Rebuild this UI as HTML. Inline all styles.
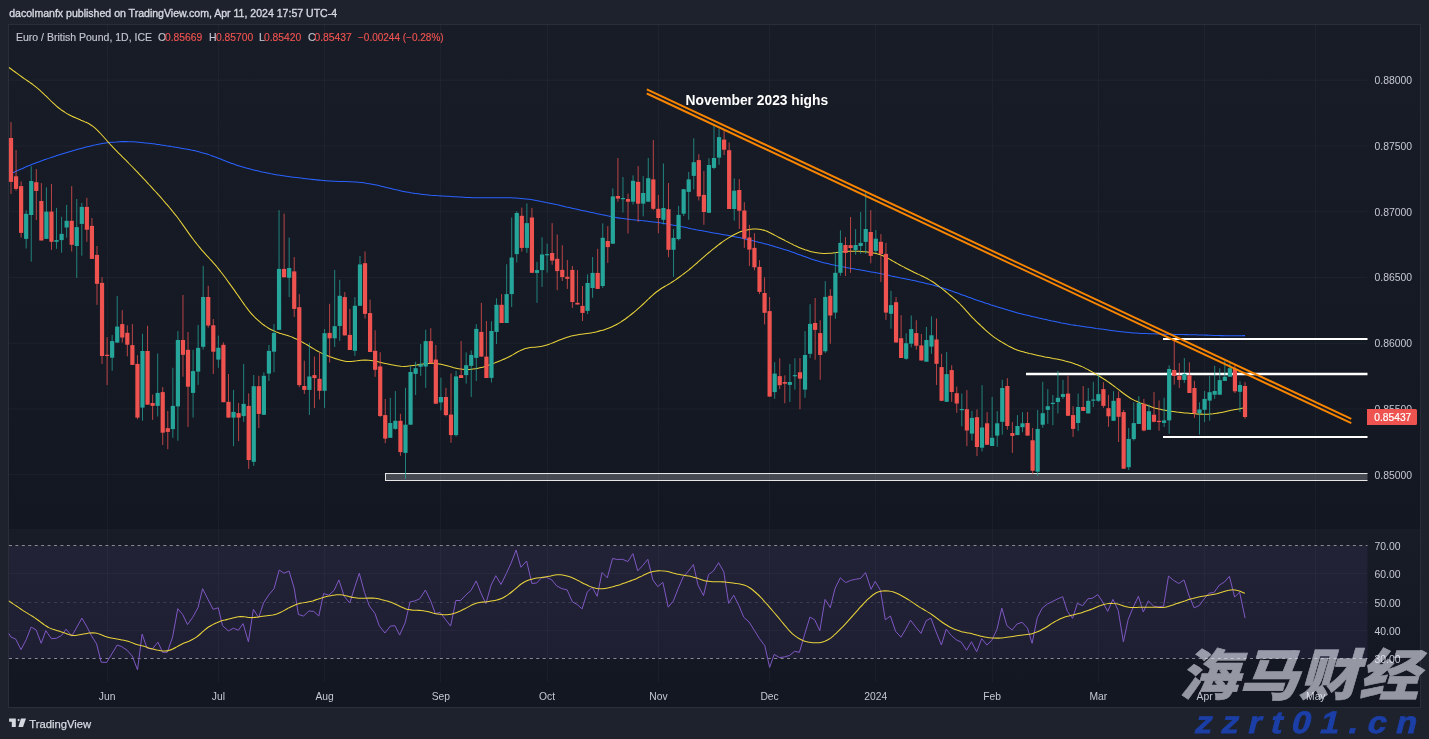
<!DOCTYPE html>
<html><head><meta charset="utf-8"><title>EURGBP chart</title>
<style>
html,body{margin:0;padding:0;background:#1e222d;}
body{width:1429px;height:739px;overflow:hidden;position:relative;font-family:"Liberation Sans","Noto Sans CJK SC",sans-serif;}
svg{position:absolute;left:0;top:0;display:block;will-change:transform;}
text{font-family:"Liberation Sans","Noto Sans CJK SC",sans-serif;}
.ax{font-size:10.4px;fill:#c5c8d0;}
.tm{font-size:10.3px;fill:#c5c8d0;text-anchor:middle}
.lg{font-size:10.5px;fill:#c3c6ce;stroke:#c3c6ce;stroke-width:0.15px}
.v{font-size:10.3px}
.rd{fill:#ef5350;stroke:#ef5350}
</style></head><body>
<svg width="1429" height="739" viewBox="0 0 1429 739">
<defs>
<linearGradient id="bg" x1="0" y1="0" x2="0" y2="1"><stop offset="0" stop-color="#181c27"/><stop offset="1" stop-color="#131722"/></linearGradient>
<clipPath id="cp"><rect x="9" y="25" width="1411" height="682"/></clipPath>
</defs>
<rect x="0" y="0" width="1429" height="739" fill="#1e222d"/>
<rect x="8.5" y="24.5" width="1412" height="683" fill="#131722" stroke="#2a2e39" stroke-width="1"/>
<rect x="9" y="25" width="1411" height="504" fill="url(#bg)"/>
<rect x="9" y="529" width="1411" height="154" fill="url(#bg)"/>

<g stroke="#f0f3fa" stroke-opacity="0.03" stroke-width="1" shape-rendering="crispEdges">
<line x1="107.5" y1="25" x2="107.5" y2="682"/>
<line x1="218.5" y1="25" x2="218.5" y2="682"/>
<line x1="324.5" y1="25" x2="324.5" y2="682"/>
<line x1="440.5" y1="25" x2="440.5" y2="682"/>
<line x1="547.5" y1="25" x2="547.5" y2="682"/>
<line x1="658.5" y1="25" x2="658.5" y2="682"/>
<line x1="769.5" y1="25" x2="769.5" y2="682"/>
<line x1="875.5" y1="25" x2="875.5" y2="682"/>
<line x1="992.5" y1="25" x2="992.5" y2="682"/>
<line x1="1098.5" y1="25" x2="1098.5" y2="682"/>
<line x1="1204.5" y1="25" x2="1204.5" y2="682"/>
<line x1="1315.5" y1="25" x2="1315.5" y2="682"/>
</g>
<g stroke="#f0f3fa" stroke-opacity="0.04" stroke-width="1">
<line x1="9" y1="80.20" x2="1367" y2="80.20"/>
<line x1="9" y1="145.95" x2="1367" y2="145.95"/>
<line x1="9" y1="211.70" x2="1367" y2="211.70"/>
<line x1="9" y1="277.45" x2="1367" y2="277.45"/>
<line x1="9" y1="343.20" x2="1367" y2="343.20"/>
<line x1="9" y1="408.95" x2="1367" y2="408.95"/>
<line x1="9" y1="474.70" x2="1367" y2="474.70"/>
<line x1="9" y1="573.7" x2="1367" y2="573.7"/>
<line x1="9" y1="630.4" x2="1367" y2="630.4"/>
</g>
<rect x="9" y="545.5" width="1358.5" height="113" fill="#7e57c2" fill-opacity="0.11"/>
<g stroke="#868994" stroke-width="1" stroke-dasharray="3,3.43">
<line x1="9" y1="545.5" x2="1367.5" y2="545.5"/><line x1="9" y1="658.5" x2="1367.5" y2="658.5"/>
</g>
<line x1="9" y1="602.5" x2="1367.5" y2="602.5" stroke="#b8bac2" stroke-opacity="0.18" stroke-width="1" stroke-dasharray="3,3.43"/>
<clipPath id="cz"><rect x="380" y="470" width="987.5" height="14"/></clipPath>
<rect x="385.5" y="473.5" width="990" height="7" fill="#ffffff" fill-opacity="0.22" stroke="#e6e6e6" stroke-width="1" clip-path="url(#cz)"/>
<g stroke="#ffffff" stroke-width="2">
<line x1="1163" y1="339" x2="1367.5" y2="339"/>
<line x1="1026" y1="374" x2="1367.5" y2="374" stroke-width="2.4"/>
<line x1="1163" y1="437" x2="1367.5" y2="437"/>
</g>
<path d="M11.1,173.5 C11.9,173.1 14.4,172.0 16.1,171.2 C17.8,170.5 19.4,169.7 21.1,169.0 C22.8,168.3 24.4,167.5 26.1,166.8 C27.8,166.1 29.4,165.5 31.1,164.8 C32.8,164.1 34.4,163.5 36.1,162.8 C37.8,162.2 39.4,161.6 41.1,161.0 C42.8,160.4 44.4,159.8 46.1,159.2 C47.8,158.7 49.4,158.1 51.1,157.5 C52.8,157.0 54.4,156.4 56.1,155.8 C57.8,155.3 59.4,154.8 61.1,154.2 C62.8,153.7 64.4,153.2 66.1,152.7 C67.8,152.2 69.4,151.7 71.1,151.2 C72.8,150.7 74.4,150.2 76.1,149.8 C77.8,149.3 79.4,148.9 81.1,148.4 C82.8,148.0 84.4,147.6 86.1,147.1 C87.8,146.7 89.4,146.3 91.1,145.9 C92.8,145.5 94.4,145.1 96.1,144.8 C97.8,144.4 99.4,144.1 101.1,143.8 C102.8,143.5 104.4,143.2 106.1,142.9 C107.8,142.7 109.4,142.5 111.1,142.3 C112.8,142.1 114.4,142.0 116.1,141.9 C117.8,141.7 119.4,141.7 121.1,141.6 C122.8,141.6 124.4,141.6 126.1,141.6 C127.8,141.6 129.4,141.7 131.1,141.7 C132.8,141.8 134.4,141.9 136.1,142.0 C137.8,142.1 139.4,142.3 141.1,142.4 C142.8,142.6 144.4,142.7 146.1,142.9 C147.8,143.1 149.4,143.3 151.1,143.5 C152.8,143.7 154.4,144.0 156.1,144.2 C157.8,144.4 159.4,144.7 161.1,144.9 C162.8,145.2 164.4,145.4 166.1,145.7 C167.8,145.9 169.4,146.2 171.1,146.5 C172.8,146.7 174.4,147.0 176.1,147.3 C177.8,147.6 179.4,147.9 181.1,148.2 C182.8,148.5 184.4,148.8 186.1,149.1 C187.8,149.4 189.4,149.7 191.1,150.1 C192.8,150.4 194.4,150.8 196.1,151.1 C197.8,151.5 199.4,151.9 201.1,152.4 C202.8,152.8 204.4,153.3 206.1,153.8 C207.8,154.3 209.4,154.9 211.1,155.5 C212.8,156.1 214.4,156.7 216.1,157.3 C217.8,158.0 219.4,158.6 221.1,159.3 C222.8,160.0 224.4,160.6 226.1,161.3 C227.8,161.9 229.4,162.6 231.1,163.2 C232.8,163.8 234.4,164.4 236.1,164.9 C237.8,165.5 239.4,166.0 241.1,166.5 C242.8,167.0 244.4,167.5 246.1,167.9 C247.8,168.4 249.4,168.8 251.1,169.3 C252.8,169.7 254.4,170.1 256.1,170.5 C257.8,170.9 259.4,171.3 261.1,171.7 C262.8,172.0 264.4,172.4 266.1,172.7 C267.8,173.1 269.4,173.4 271.1,173.8 C272.8,174.1 274.4,174.4 276.1,174.7 C277.8,175.0 279.4,175.2 281.1,175.5 C282.8,175.8 284.4,176.0 286.1,176.2 C287.8,176.5 289.4,176.7 291.1,176.9 C292.8,177.1 294.4,177.3 296.1,177.5 C297.8,177.7 299.4,177.9 301.1,178.1 C302.8,178.3 304.4,178.5 306.1,178.7 C307.8,178.9 309.4,179.1 311.1,179.3 C312.8,179.5 314.4,179.7 316.1,179.8 C317.8,180.0 319.4,180.2 321.1,180.3 C322.8,180.5 324.4,180.6 326.1,180.7 C327.8,180.9 329.4,181.0 331.1,181.1 C332.8,181.2 334.4,181.2 336.1,181.3 C337.8,181.4 339.4,181.4 341.1,181.5 C342.8,181.5 344.4,181.5 346.1,181.6 C347.8,181.7 349.4,181.7 351.1,181.8 C352.8,181.9 354.4,182.0 356.1,182.1 C357.8,182.3 359.4,182.4 361.1,182.6 C362.8,182.8 364.4,183.0 366.1,183.3 C367.8,183.5 369.4,183.8 371.1,184.1 C372.8,184.4 374.4,184.8 376.1,185.1 C377.8,185.4 379.4,185.8 381.1,186.2 C382.8,186.6 384.4,187.0 386.1,187.4 C387.8,187.8 389.4,188.2 391.1,188.6 C392.8,189.0 394.4,189.4 396.1,189.8 C397.8,190.1 399.4,190.5 401.1,190.9 C402.8,191.2 404.4,191.6 406.1,191.9 C407.8,192.2 409.4,192.5 411.1,192.8 C412.8,193.0 414.4,193.3 416.1,193.5 C417.8,193.8 419.4,194.0 421.1,194.2 C422.8,194.4 424.4,194.5 426.1,194.7 C427.8,194.9 429.4,195.0 431.1,195.2 C432.8,195.3 434.4,195.4 436.1,195.6 C437.8,195.7 439.4,195.8 441.1,195.9 C442.8,196.0 444.4,196.1 446.1,196.2 C447.8,196.3 449.4,196.4 451.1,196.5 C452.8,196.6 454.4,196.7 456.1,196.8 C457.8,196.9 459.4,197.0 461.1,197.1 C462.8,197.2 464.4,197.3 466.1,197.4 C467.8,197.4 469.4,197.5 471.1,197.6 C472.8,197.6 474.4,197.7 476.1,197.7 C477.8,197.8 479.4,197.8 481.1,197.8 C482.8,197.8 484.4,197.8 486.1,197.8 C487.8,197.8 489.4,197.8 491.1,197.8 C492.8,197.8 494.4,197.7 496.1,197.7 C497.8,197.7 499.4,197.7 501.1,197.7 C502.8,197.7 504.4,197.7 506.1,197.7 C507.8,197.7 509.4,197.8 511.1,197.8 C512.8,197.9 514.4,198.0 516.1,198.1 C517.8,198.2 519.4,198.3 521.1,198.4 C522.8,198.6 524.4,198.8 526.1,199.0 C527.8,199.2 529.4,199.4 531.1,199.6 C532.8,199.9 534.4,200.1 536.1,200.4 C537.8,200.7 539.4,201.0 541.1,201.4 C542.8,201.7 544.4,202.0 546.1,202.4 C547.8,202.7 549.4,203.1 551.1,203.4 C552.8,203.8 554.4,204.2 556.1,204.6 C557.8,204.9 559.4,205.3 561.1,205.7 C562.8,206.1 564.4,206.5 566.1,206.9 C567.8,207.2 569.4,207.6 571.1,208.0 C572.8,208.4 574.4,208.8 576.1,209.1 C577.8,209.5 579.4,209.9 581.1,210.3 C582.8,210.6 584.4,211.0 586.1,211.3 C587.8,211.7 589.4,212.1 591.1,212.4 C592.8,212.8 594.4,213.2 596.1,213.5 C597.8,213.9 599.4,214.2 601.1,214.6 C602.8,214.9 604.4,215.3 606.1,215.6 C607.8,216.0 609.4,216.3 611.1,216.6 C612.8,216.9 614.4,217.3 616.1,217.5 C617.8,217.8 619.4,218.1 621.1,218.3 C622.8,218.6 624.4,218.8 626.1,219.0 C627.8,219.2 629.4,219.4 631.1,219.6 C632.8,219.7 634.4,219.9 636.1,220.1 C637.8,220.2 639.4,220.4 641.1,220.6 C642.8,220.7 644.4,220.9 646.1,221.1 C647.8,221.3 649.4,221.5 651.1,221.7 C652.8,221.9 654.4,222.1 656.1,222.3 C657.8,222.6 659.4,222.8 661.1,223.0 C662.8,223.3 664.4,223.5 666.1,223.8 C667.8,224.1 669.4,224.4 671.1,224.7 C672.8,225.0 674.4,225.3 676.1,225.6 C677.8,225.9 679.4,226.2 681.1,226.6 C682.8,226.9 684.4,227.3 686.1,227.6 C687.8,228.0 689.4,228.3 691.1,228.7 C692.8,229.0 694.4,229.3 696.1,229.7 C697.8,230.0 699.4,230.3 701.1,230.6 C702.8,231.0 704.4,231.3 706.1,231.6 C707.8,231.9 709.4,232.2 711.1,232.5 C712.8,232.8 714.4,233.0 716.1,233.3 C717.8,233.6 719.4,233.9 721.1,234.2 C722.8,234.5 724.4,234.8 726.1,235.1 C727.8,235.4 729.4,235.7 731.1,236.0 C732.8,236.4 734.4,236.7 736.1,237.0 C737.8,237.4 739.4,237.7 741.1,238.1 C742.8,238.5 744.4,238.8 746.1,239.2 C747.8,239.6 749.4,240.0 751.1,240.3 C752.8,240.7 754.4,241.1 756.1,241.6 C757.8,242.0 759.4,242.4 761.1,242.8 C762.8,243.2 764.4,243.7 766.1,244.1 C767.8,244.6 769.4,245.0 771.1,245.5 C772.8,246.0 774.4,246.4 776.1,246.9 C777.8,247.4 779.4,247.9 781.1,248.4 C782.8,249.0 784.4,249.5 786.1,250.0 C787.8,250.6 789.4,251.1 791.1,251.7 C792.8,252.3 794.4,252.9 796.1,253.5 C797.8,254.1 799.4,254.7 801.1,255.3 C802.8,255.9 804.4,256.5 806.1,257.1 C807.8,257.7 809.4,258.3 811.1,258.9 C812.8,259.4 814.4,260.0 816.1,260.5 C817.8,261.0 819.4,261.5 821.1,261.9 C822.8,262.4 824.4,262.8 826.1,263.2 C827.8,263.6 829.4,264.0 831.1,264.4 C832.8,264.8 834.4,265.1 836.1,265.5 C837.8,265.8 839.4,266.1 841.1,266.5 C842.8,266.8 844.4,267.1 846.1,267.4 C847.8,267.7 849.4,268.1 851.1,268.4 C852.8,268.7 854.4,269.0 856.1,269.3 C857.8,269.5 859.4,269.8 861.1,270.1 C862.8,270.4 864.4,270.7 866.1,271.0 C867.8,271.3 869.4,271.6 871.1,271.9 C872.8,272.2 874.4,272.5 876.1,272.8 C877.8,273.1 879.4,273.4 881.1,273.8 C882.8,274.1 884.4,274.5 886.1,274.8 C887.8,275.1 889.4,275.5 891.1,275.9 C892.8,276.2 894.4,276.6 896.1,276.9 C897.8,277.3 899.4,277.6 901.1,278.0 C902.8,278.3 904.4,278.7 906.1,279.0 C907.8,279.4 909.4,279.7 911.1,280.1 C912.8,280.4 914.4,280.8 916.1,281.1 C917.8,281.5 919.4,281.8 921.1,282.2 C922.8,282.6 924.4,283.0 926.1,283.4 C927.8,283.8 929.4,284.2 931.1,284.6 C932.8,285.0 934.4,285.5 936.1,285.9 C937.8,286.4 939.4,286.9 941.1,287.4 C942.8,287.9 944.4,288.5 946.1,289.0 C947.8,289.6 949.4,290.2 951.1,290.8 C952.8,291.3 954.4,292.0 956.1,292.6 C957.8,293.2 959.4,293.8 961.1,294.4 C962.8,295.0 964.4,295.7 966.1,296.3 C967.8,296.9 969.4,297.5 971.1,298.1 C972.8,298.7 974.4,299.3 976.1,299.9 C977.8,300.5 979.4,301.0 981.1,301.6 C982.8,302.2 984.4,302.7 986.1,303.3 C987.8,303.8 989.4,304.3 991.1,304.9 C992.8,305.4 994.4,305.9 996.1,306.5 C997.8,307.0 999.4,307.5 1001.1,308.0 C1002.8,308.5 1004.4,309.1 1006.1,309.6 C1007.8,310.1 1009.4,310.5 1011.1,311.0 C1012.8,311.5 1014.4,312.0 1016.1,312.4 C1017.8,312.9 1019.4,313.3 1021.1,313.7 C1022.8,314.2 1024.4,314.6 1026.1,315.0 C1027.8,315.4 1029.4,315.8 1031.1,316.2 C1032.8,316.6 1034.4,317.0 1036.1,317.3 C1037.8,317.7 1039.4,318.1 1041.1,318.5 C1042.8,318.9 1044.4,319.3 1046.1,319.6 C1047.8,320.0 1049.4,320.4 1051.1,320.8 C1052.8,321.1 1054.4,321.5 1056.1,321.8 C1057.8,322.2 1059.4,322.5 1061.1,322.9 C1062.8,323.2 1064.4,323.5 1066.1,323.8 C1067.8,324.1 1069.4,324.4 1071.1,324.7 C1072.8,324.9 1074.4,325.2 1076.1,325.5 C1077.8,325.7 1079.4,326.0 1081.1,326.2 C1082.8,326.5 1084.4,326.7 1086.1,326.9 C1087.8,327.2 1089.4,327.4 1091.1,327.6 C1092.8,327.9 1094.4,328.1 1096.1,328.4 C1097.8,328.6 1099.4,328.8 1101.1,329.0 C1102.8,329.3 1104.4,329.5 1106.1,329.7 C1107.8,330.0 1109.4,330.2 1111.1,330.4 C1112.8,330.6 1114.4,330.9 1116.1,331.1 C1117.8,331.3 1119.4,331.5 1121.1,331.7 C1122.8,331.9 1124.4,332.1 1126.1,332.2 C1127.8,332.4 1129.4,332.6 1131.1,332.7 C1132.8,332.8 1134.4,333.0 1136.1,333.1 C1137.8,333.2 1139.4,333.3 1141.1,333.4 C1142.8,333.4 1144.4,333.5 1146.1,333.6 C1147.8,333.7 1149.4,333.7 1151.1,333.8 C1152.8,333.8 1154.4,333.9 1156.1,333.9 C1157.8,334.0 1159.4,334.0 1161.1,334.1 C1162.8,334.1 1164.4,334.2 1166.1,334.2 C1167.8,334.2 1169.4,334.3 1171.1,334.3 C1172.8,334.4 1174.4,334.4 1176.1,334.4 C1177.8,334.4 1179.4,334.5 1181.1,334.5 C1182.8,334.5 1184.4,334.6 1186.1,334.6 C1187.8,334.6 1189.4,334.7 1191.1,334.7 C1192.8,334.7 1194.4,334.8 1196.1,334.8 C1197.8,334.9 1199.4,334.9 1201.1,335.0 C1202.8,335.0 1204.4,335.1 1206.1,335.1 C1207.8,335.2 1209.4,335.2 1211.1,335.3 C1212.8,335.4 1214.4,335.4 1216.1,335.5 C1217.8,335.5 1219.4,335.6 1221.1,335.6 C1222.8,335.7 1224.4,335.7 1226.1,335.7 C1227.8,335.7 1229.4,335.8 1231.1,335.8 C1232.8,335.8 1234.4,335.8 1236.1,335.7 C1237.8,335.7 1239.6,335.7 1241.1,335.7 C1242.6,335.7 1244.4,335.6 1245.0,335.6" fill="none" stroke="#2962ff" stroke-width="1.05" stroke-linejoin="round"/>
<path d="M9.0,67.5 C9.7,68.0 11.7,69.5 13.0,70.5 C14.3,71.4 15.7,72.4 17.0,73.4 C18.3,74.4 19.7,75.3 21.0,76.3 C22.3,77.2 23.7,78.2 25.0,79.1 C26.3,80.0 27.7,80.9 29.0,81.8 C30.3,82.8 31.7,83.7 33.0,84.7 C34.3,85.7 35.7,86.7 37.0,87.8 C38.3,88.9 39.7,90.0 41.0,91.3 C42.3,92.5 43.7,93.8 45.0,95.1 C46.3,96.3 47.7,97.7 49.0,99.0 C50.3,100.3 51.7,101.6 53.0,102.8 C54.3,104.1 55.7,105.3 57.0,106.5 C58.3,107.6 59.7,108.7 61.0,109.7 C62.3,110.6 63.7,111.5 65.0,112.4 C66.3,113.2 67.7,114.0 69.0,114.7 C70.3,115.4 71.7,116.1 73.0,116.7 C74.3,117.3 75.7,117.9 77.0,118.5 C78.3,119.1 79.7,119.6 81.0,120.2 C82.3,120.7 83.7,121.2 85.0,121.9 C86.3,122.5 87.7,123.1 89.0,123.8 C90.3,124.6 91.7,125.4 93.0,126.4 C94.3,127.4 95.7,128.6 97.0,129.9 C98.3,131.1 99.7,132.6 101.0,134.0 C102.3,135.5 103.7,137.0 105.0,138.5 C106.3,140.1 107.7,141.6 109.0,143.0 C110.3,144.5 111.7,145.9 113.0,147.3 C114.3,148.7 115.7,150.0 117.0,151.4 C118.3,152.8 119.7,154.1 121.0,155.4 C122.3,156.8 123.7,158.1 125.0,159.4 C126.3,160.8 127.7,162.1 129.0,163.5 C130.3,164.8 131.7,166.2 133.0,167.5 C134.3,168.9 135.7,170.3 137.0,171.7 C138.3,173.1 139.7,174.5 141.0,175.9 C142.3,177.3 143.7,178.8 145.0,180.2 C146.3,181.6 147.7,183.0 149.0,184.5 C150.3,185.9 151.7,187.3 153.0,188.8 C154.3,190.3 155.7,191.7 157.0,193.2 C158.3,194.7 159.7,196.2 161.0,197.7 C162.3,199.2 163.7,200.8 165.0,202.3 C166.3,203.9 167.7,205.4 169.0,207.0 C170.3,208.6 171.7,210.1 173.0,211.8 C174.3,213.4 175.7,215.1 177.0,216.8 C178.3,218.6 179.7,220.4 181.0,222.3 C182.3,224.1 183.7,226.1 185.0,227.9 C186.3,229.8 187.7,231.8 189.0,233.6 C190.3,235.4 191.7,237.3 193.0,239.0 C194.3,240.8 195.7,242.5 197.0,244.2 C198.3,245.9 199.7,247.5 201.0,249.1 C202.3,250.6 203.7,252.1 205.0,253.6 C206.3,255.1 207.7,256.6 209.0,258.0 C210.3,259.5 211.7,260.9 213.0,262.4 C214.3,263.9 215.7,265.4 217.0,267.0 C218.3,268.6 219.7,270.2 221.0,272.0 C222.3,273.7 223.7,275.5 225.0,277.3 C226.3,279.1 227.7,281.0 229.0,282.9 C230.3,284.7 231.7,286.6 233.0,288.4 C234.3,290.3 235.7,292.2 237.0,294.0 C238.3,295.9 239.7,297.9 241.0,299.8 C242.3,301.7 243.7,303.6 245.0,305.5 C246.3,307.3 247.7,309.1 249.0,310.8 C250.3,312.4 251.7,314.0 253.0,315.4 C254.3,316.8 255.7,318.1 257.0,319.3 C258.3,320.5 259.7,321.7 261.0,322.8 C262.3,323.9 263.7,324.9 265.0,325.9 C266.3,326.8 267.7,327.7 269.0,328.5 C270.3,329.3 271.7,330.0 273.0,330.6 C274.3,331.2 275.7,331.7 277.0,332.2 C278.3,332.7 279.7,333.1 281.0,333.6 C282.3,334.0 283.7,334.4 285.0,334.8 C286.3,335.2 287.7,335.6 289.0,336.1 C290.3,336.5 291.7,337.0 293.0,337.5 C294.3,338.1 295.7,338.7 297.0,339.3 C298.3,340.0 299.7,340.7 301.0,341.4 C302.3,342.1 303.7,342.9 305.0,343.6 C306.3,344.4 307.7,345.2 309.0,346.0 C310.3,346.8 311.7,347.6 313.0,348.4 C314.3,349.2 315.7,350.0 317.0,350.8 C318.3,351.5 319.7,352.2 321.0,352.9 C322.3,353.6 323.7,354.2 325.0,354.7 C326.3,355.3 327.7,355.8 329.0,356.3 C330.3,356.9 331.7,357.3 333.0,357.8 C334.3,358.3 335.7,358.7 337.0,359.1 C338.3,359.6 339.7,360.0 341.0,360.3 C342.3,360.7 343.7,361.0 345.0,361.2 C346.3,361.4 347.7,361.5 349.0,361.5 C350.3,361.5 351.7,361.4 353.0,361.2 C354.3,361.1 355.7,360.8 357.0,360.7 C358.3,360.5 359.7,360.3 361.0,360.2 C362.3,360.1 363.7,360.1 365.0,360.1 C366.3,360.1 367.7,360.2 369.0,360.3 C370.3,360.4 371.7,360.6 373.0,360.8 C374.3,361.0 375.7,361.2 377.0,361.5 C378.3,361.8 379.7,362.1 381.0,362.4 C382.3,362.7 383.7,363.1 385.0,363.4 C386.3,363.7 387.7,364.0 389.0,364.3 C390.3,364.6 391.7,364.9 393.0,365.1 C394.3,365.4 395.7,365.6 397.0,365.8 C398.3,366.0 399.7,366.1 401.0,366.3 C402.3,366.4 403.7,366.4 405.0,366.4 C406.3,366.4 407.7,366.3 409.0,366.1 C410.3,366.0 411.7,365.8 413.0,365.6 C414.3,365.4 415.7,365.2 417.0,365.0 C418.3,364.7 419.7,364.5 421.0,364.3 C422.3,364.1 423.7,364.0 425.0,363.8 C426.3,363.6 427.7,363.5 429.0,363.4 C430.3,363.3 431.7,363.3 433.0,363.3 C434.3,363.3 435.7,363.4 437.0,363.6 C438.3,363.8 439.7,364.0 441.0,364.3 C442.3,364.6 443.7,364.9 445.0,365.2 C446.3,365.6 447.7,365.9 449.0,366.3 C450.3,366.6 451.7,367.0 453.0,367.4 C454.3,367.7 455.7,368.1 457.0,368.4 C458.3,368.7 459.7,368.9 461.0,369.1 C462.3,369.3 463.7,369.4 465.0,369.5 C466.3,369.6 467.7,369.6 469.0,369.5 C470.3,369.4 471.7,369.3 473.0,369.1 C474.3,368.9 475.7,368.7 477.0,368.4 C478.3,368.2 479.7,367.9 481.0,367.5 C482.3,367.2 483.7,366.8 485.0,366.4 C486.3,366.0 487.7,365.6 489.0,365.1 C490.3,364.7 491.7,364.2 493.0,363.7 C494.3,363.2 495.7,362.7 497.0,362.1 C498.3,361.6 499.7,361.0 501.0,360.5 C502.3,359.9 503.7,359.3 505.0,358.7 C506.3,358.1 507.7,357.5 509.0,356.8 C510.3,356.1 511.7,355.3 513.0,354.6 C514.3,353.8 515.7,353.0 517.0,352.3 C518.3,351.6 519.7,350.8 521.0,350.2 C522.3,349.6 523.7,349.1 525.0,348.6 C526.3,348.2 527.7,347.9 529.0,347.7 C530.3,347.5 531.7,347.4 533.0,347.3 C534.3,347.2 535.7,347.1 537.0,347.0 C538.3,346.9 539.7,346.7 541.0,346.5 C542.3,346.3 543.7,346.0 545.0,345.6 C546.3,345.2 547.7,344.7 549.0,344.2 C550.3,343.8 551.7,343.2 553.0,342.7 C554.3,342.1 555.7,341.6 557.0,341.1 C558.3,340.5 559.7,340.0 561.0,339.5 C562.3,339.0 563.7,338.5 565.0,338.0 C566.3,337.6 567.7,337.1 569.0,336.7 C570.3,336.3 571.7,336.0 573.0,335.7 C574.3,335.4 575.7,335.1 577.0,334.9 C578.3,334.7 579.7,334.5 581.0,334.3 C582.3,334.1 583.7,334.0 585.0,333.8 C586.3,333.6 587.7,333.4 589.0,333.2 C590.3,333.0 591.7,332.8 593.0,332.6 C594.3,332.3 595.7,332.0 597.0,331.7 C598.3,331.4 599.7,331.0 601.0,330.6 C602.3,330.3 603.7,329.9 605.0,329.4 C606.3,329.0 607.7,328.5 609.0,328.0 C610.3,327.5 611.7,326.9 613.0,326.3 C614.3,325.6 615.7,324.9 617.0,324.2 C618.3,323.5 619.7,322.7 621.0,321.9 C622.3,321.0 623.7,320.1 625.0,319.2 C626.3,318.3 627.7,317.3 629.0,316.2 C630.3,315.2 631.7,314.1 633.0,313.0 C634.3,311.9 635.7,310.8 637.0,309.7 C638.3,308.5 639.7,307.3 641.0,306.1 C642.3,304.9 643.7,303.6 645.0,302.4 C646.3,301.1 647.7,299.8 649.0,298.5 C650.3,297.3 651.7,296.0 653.0,294.8 C654.3,293.6 655.7,292.5 657.0,291.5 C658.3,290.5 659.7,289.6 661.0,288.7 C662.3,287.8 663.7,287.1 665.0,286.3 C666.3,285.5 667.7,284.8 669.0,284.0 C670.3,283.2 671.7,282.4 673.0,281.5 C674.3,280.7 675.7,279.7 677.0,278.8 C678.3,277.9 679.7,276.9 681.0,275.9 C682.3,274.9 683.7,273.9 685.0,272.9 C686.3,271.9 687.7,270.8 689.0,269.8 C690.3,268.7 691.7,267.6 693.0,266.4 C694.3,265.3 695.7,264.1 697.0,263.0 C698.3,261.8 699.7,260.6 701.0,259.4 C702.3,258.2 703.7,257.1 705.0,255.9 C706.3,254.8 707.7,253.6 709.0,252.5 C710.3,251.4 711.7,250.3 713.0,249.2 C714.3,248.1 715.7,247.1 717.0,246.0 C718.3,245.0 719.7,244.0 721.0,243.0 C722.3,242.0 723.7,241.0 725.0,240.1 C726.3,239.3 727.7,238.4 729.0,237.6 C730.3,236.8 731.7,236.0 733.0,235.3 C734.3,234.6 735.7,233.9 737.0,233.3 C738.3,232.7 739.7,232.1 741.0,231.6 C742.3,231.1 743.7,230.7 745.0,230.4 C746.3,230.0 747.7,229.7 749.0,229.5 C750.3,229.3 751.7,229.1 753.0,229.0 C754.3,228.9 755.7,228.9 757.0,228.9 C758.3,229.0 759.7,229.2 761.0,229.4 C762.3,229.7 763.7,230.1 765.0,230.6 C766.3,231.0 767.7,231.6 769.0,232.3 C770.3,232.9 771.7,233.6 773.0,234.3 C774.3,235.0 775.7,235.7 777.0,236.4 C778.3,237.1 779.7,237.8 781.0,238.5 C782.3,239.2 783.7,239.9 785.0,240.6 C786.3,241.3 787.7,242.0 789.0,242.6 C790.3,243.3 791.7,244.0 793.0,244.6 C794.3,245.3 795.7,245.9 797.0,246.5 C798.3,247.1 799.7,247.7 801.0,248.2 C802.3,248.7 803.7,249.2 805.0,249.7 C806.3,250.1 807.7,250.5 809.0,250.9 C810.3,251.3 811.7,251.7 813.0,252.0 C814.3,252.3 815.7,252.6 817.0,252.8 C818.3,253.0 819.7,253.1 821.0,253.2 C822.3,253.3 823.7,253.4 825.0,253.4 C826.3,253.4 827.7,253.4 829.0,253.3 C830.3,253.2 831.7,253.1 833.0,252.9 C834.3,252.8 835.7,252.6 837.0,252.4 C838.3,252.3 839.7,252.1 841.0,251.9 C842.3,251.8 843.7,251.7 845.0,251.6 C846.3,251.5 847.7,251.4 849.0,251.3 C850.3,251.3 851.7,251.2 853.0,251.2 C854.3,251.2 855.7,251.2 857.0,251.3 C858.3,251.3 859.7,251.4 861.0,251.4 C862.3,251.5 863.7,251.6 865.0,251.8 C866.3,251.9 867.7,252.0 869.0,252.2 C870.3,252.4 871.7,252.6 873.0,252.9 C874.3,253.2 875.7,253.5 877.0,253.8 C878.3,254.2 879.7,254.6 881.0,255.1 C882.3,255.6 883.7,256.2 885.0,256.8 C886.3,257.4 887.7,258.2 889.0,258.9 C890.3,259.6 891.7,260.4 893.0,261.1 C894.3,261.9 895.7,262.6 897.0,263.4 C898.3,264.1 899.7,264.9 901.0,265.6 C902.3,266.3 903.7,267.0 905.0,267.7 C906.3,268.4 907.7,269.1 909.0,269.8 C910.3,270.5 911.7,271.2 913.0,271.8 C914.3,272.5 915.7,273.1 917.0,273.7 C918.3,274.3 919.7,274.9 921.0,275.6 C922.3,276.2 923.7,276.8 925.0,277.5 C926.3,278.1 927.7,278.8 929.0,279.6 C930.3,280.3 931.7,281.2 933.0,282.0 C934.3,282.9 935.7,283.8 937.0,284.8 C938.3,285.8 939.7,286.8 941.0,287.8 C942.3,288.8 943.7,289.9 945.0,291.0 C946.3,292.1 947.7,293.2 949.0,294.3 C950.3,295.4 951.7,296.6 953.0,297.7 C954.3,298.9 955.7,300.0 957.0,301.2 C958.3,302.5 959.7,303.7 961.0,305.1 C962.3,306.4 963.7,307.9 965.0,309.4 C966.3,310.9 967.7,312.4 969.0,313.9 C970.3,315.4 971.7,316.8 973.0,318.2 C974.3,319.5 975.7,320.8 977.0,322.1 C978.3,323.4 979.7,324.6 981.0,325.9 C982.3,327.1 983.7,328.4 985.0,329.6 C986.3,330.9 987.7,332.1 989.0,333.2 C990.3,334.3 991.7,335.4 993.0,336.4 C994.3,337.4 995.7,338.2 997.0,339.1 C998.3,340.0 999.7,340.8 1001.0,341.6 C1002.3,342.4 1003.7,343.2 1005.0,344.0 C1006.3,344.8 1007.7,345.5 1009.0,346.3 C1010.3,347.0 1011.7,347.7 1013.0,348.3 C1014.3,349.0 1015.7,349.5 1017.0,350.0 C1018.3,350.5 1019.7,350.9 1021.0,351.3 C1022.3,351.7 1023.7,352.0 1025.0,352.4 C1026.3,352.7 1027.7,353.0 1029.0,353.4 C1030.3,353.7 1031.7,354.0 1033.0,354.3 C1034.3,354.6 1035.7,354.9 1037.0,355.2 C1038.3,355.5 1039.7,355.8 1041.0,356.1 C1042.3,356.4 1043.7,356.6 1045.0,356.9 C1046.3,357.1 1047.7,357.4 1049.0,357.6 C1050.3,357.9 1051.7,358.1 1053.0,358.4 C1054.3,358.6 1055.7,358.9 1057.0,359.1 C1058.3,359.4 1059.7,359.6 1061.0,359.9 C1062.3,360.2 1063.7,360.5 1065.0,360.9 C1066.3,361.2 1067.7,361.6 1069.0,362.0 C1070.3,362.4 1071.7,362.8 1073.0,363.2 C1074.3,363.7 1075.7,364.1 1077.0,364.6 C1078.3,365.1 1079.7,365.6 1081.0,366.2 C1082.3,366.8 1083.7,367.4 1085.0,368.1 C1086.3,368.8 1087.7,369.5 1089.0,370.2 C1090.3,370.9 1091.7,371.6 1093.0,372.4 C1094.3,373.2 1095.7,373.9 1097.0,374.7 C1098.3,375.5 1099.7,376.4 1101.0,377.2 C1102.3,378.1 1103.7,378.9 1105.0,379.8 C1106.3,380.7 1107.7,381.6 1109.0,382.5 C1110.3,383.4 1111.7,384.4 1113.0,385.4 C1114.3,386.4 1115.7,387.4 1117.0,388.4 C1118.3,389.4 1119.7,390.5 1121.0,391.5 C1122.3,392.5 1123.7,393.6 1125.0,394.5 C1126.3,395.5 1127.7,396.4 1129.0,397.2 C1130.3,398.1 1131.7,398.9 1133.0,399.6 C1134.3,400.3 1135.7,401.0 1137.0,401.6 C1138.3,402.2 1139.7,402.7 1141.0,403.2 C1142.3,403.7 1143.7,404.2 1145.0,404.6 C1146.3,405.1 1147.7,405.6 1149.0,406.0 C1150.3,406.5 1151.7,407.0 1153.0,407.4 C1154.3,407.8 1155.7,408.2 1157.0,408.5 C1158.3,408.9 1159.7,409.2 1161.0,409.5 C1162.3,409.8 1163.7,410.1 1165.0,410.3 C1166.3,410.5 1167.7,410.7 1169.0,410.9 C1170.3,411.1 1171.7,411.3 1173.0,411.5 C1174.3,411.7 1175.7,411.8 1177.0,412.0 C1178.3,412.1 1179.7,412.3 1181.0,412.4 C1182.3,412.6 1183.7,412.7 1185.0,412.9 C1186.3,413.0 1187.7,413.2 1189.0,413.3 C1190.3,413.4 1191.7,413.5 1193.0,413.6 C1194.3,413.7 1195.7,413.8 1197.0,413.9 C1198.3,414.0 1199.7,414.1 1201.0,414.1 C1202.3,414.1 1203.7,414.2 1205.0,414.2 C1206.3,414.1 1207.7,414.1 1209.0,414.1 C1210.3,414.0 1211.7,413.9 1213.0,413.8 C1214.3,413.6 1215.7,413.4 1217.0,413.2 C1218.3,413.0 1219.7,412.8 1221.0,412.5 C1222.3,412.3 1223.7,412.0 1225.0,411.7 C1226.3,411.4 1227.7,411.1 1229.0,410.8 C1230.3,410.5 1231.7,410.2 1233.0,409.9 C1234.3,409.7 1235.7,409.4 1237.0,409.2 C1238.3,409.0 1240.0,408.8 1241.0,408.6 C1242.0,408.4 1242.6,408.2 1242.9,408.1" fill="none" stroke="#e8d23a" stroke-width="1.05" stroke-linejoin="round"/>
<g>
<rect x="10.50" y="122.1" width="1" height="71.9" fill="#ef5350" fill-opacity="0.75"/>
<rect x="8.90" y="138.0" width="4.2" height="43.9" fill="#ef5350"/>
<rect x="15.56" y="150.0" width="1" height="40.6" fill="#ef5350" fill-opacity="0.75"/>
<rect x="13.96" y="176.3" width="4.2" height="12.6" fill="#ef5350"/>
<rect x="20.62" y="181.4" width="1" height="56.2" fill="#ef5350" fill-opacity="0.75"/>
<rect x="19.02" y="186.1" width="4.2" height="46.8" fill="#ef5350"/>
<rect x="25.67" y="210.3" width="1" height="38.2" fill="#26a69a" fill-opacity="0.75"/>
<rect x="24.07" y="213.8" width="4.2" height="25.1" fill="#26a69a"/>
<rect x="30.73" y="166.3" width="1" height="95.3" fill="#26a69a" fill-opacity="0.75"/>
<rect x="29.13" y="181.0" width="4.2" height="34.0" fill="#26a69a"/>
<rect x="35.79" y="169.1" width="1" height="50.9" fill="#ef5350" fill-opacity="0.75"/>
<rect x="34.19" y="182.2" width="4.2" height="8.8" fill="#ef5350"/>
<rect x="40.84" y="183.1" width="1" height="57.4" fill="#ef5350" fill-opacity="0.75"/>
<rect x="39.24" y="201.0" width="4.2" height="39.5" fill="#ef5350"/>
<rect x="45.90" y="187.3" width="1" height="51.6" fill="#26a69a" fill-opacity="0.75"/>
<rect x="44.30" y="211.6" width="4.2" height="27.3" fill="#26a69a"/>
<rect x="50.96" y="183.9" width="1" height="66.0" fill="#ef5350" fill-opacity="0.75"/>
<rect x="49.36" y="211.6" width="4.2" height="30.2" fill="#ef5350"/>
<rect x="56.02" y="207.9" width="1" height="40.9" fill="#26a69a" fill-opacity="0.75"/>
<rect x="54.42" y="240.1" width="4.2" height="1.7" fill="#26a69a"/>
<rect x="61.08" y="216.8" width="1" height="35.9" fill="#26a69a" fill-opacity="0.75"/>
<rect x="59.48" y="233.9" width="4.2" height="6.2" fill="#26a69a"/>
<rect x="66.13" y="204.9" width="1" height="32.7" fill="#26a69a" fill-opacity="0.75"/>
<rect x="64.53" y="220.8" width="4.2" height="6.7" fill="#26a69a"/>
<rect x="71.19" y="186.1" width="1" height="65.4" fill="#ef5350" fill-opacity="0.75"/>
<rect x="69.59" y="220.8" width="4.2" height="24.0" fill="#ef5350"/>
<rect x="76.25" y="199.0" width="1" height="78.9" fill="#26a69a" fill-opacity="0.75"/>
<rect x="74.65" y="227.1" width="4.2" height="18.9" fill="#26a69a"/>
<rect x="81.31" y="202.9" width="1" height="52.8" fill="#26a69a" fill-opacity="0.75"/>
<rect x="79.71" y="206.9" width="4.2" height="17.0" fill="#26a69a"/>
<rect x="86.36" y="197.8" width="1" height="44.0" fill="#ef5350" fill-opacity="0.75"/>
<rect x="84.76" y="206.9" width="4.2" height="22.8" fill="#ef5350"/>
<rect x="91.42" y="218.0" width="1" height="40.9" fill="#ef5350" fill-opacity="0.75"/>
<rect x="89.82" y="225.9" width="4.2" height="33.0" fill="#ef5350"/>
<rect x="96.48" y="246.0" width="1" height="58.8" fill="#ef5350" fill-opacity="0.75"/>
<rect x="94.88" y="254.9" width="4.2" height="28.9" fill="#ef5350"/>
<rect x="101.53" y="277.1" width="1" height="86.8" fill="#ef5350" fill-opacity="0.75"/>
<rect x="99.94" y="282.9" width="4.2" height="73.1" fill="#ef5350"/>
<rect x="106.59" y="337.2" width="1" height="47.9" fill="#ef5350" fill-opacity="0.75"/>
<rect x="104.99" y="354.8" width="4.2" height="1.2" fill="#ef5350"/>
<rect x="111.65" y="335.0" width="1" height="35.8" fill="#26a69a" fill-opacity="0.75"/>
<rect x="110.05" y="341.1" width="4.2" height="16.6" fill="#26a69a"/>
<rect x="116.71" y="295.9" width="1" height="46.7" fill="#26a69a" fill-opacity="0.75"/>
<rect x="115.11" y="326.6" width="4.2" height="16.0" fill="#26a69a"/>
<rect x="121.77" y="310.2" width="1" height="32.4" fill="#ef5350" fill-opacity="0.75"/>
<rect x="120.17" y="324.1" width="4.2" height="13.4" fill="#ef5350"/>
<rect x="126.82" y="325.3" width="1" height="31.0" fill="#ef5350" fill-opacity="0.75"/>
<rect x="125.22" y="332.8" width="4.2" height="11.9" fill="#ef5350"/>
<rect x="131.88" y="324.1" width="1" height="40.8" fill="#ef5350" fill-opacity="0.75"/>
<rect x="130.28" y="345.1" width="4.2" height="19.8" fill="#ef5350"/>
<rect x="136.94" y="355.2" width="1" height="64.1" fill="#ef5350" fill-opacity="0.75"/>
<rect x="135.34" y="363.9" width="4.2" height="53.7" fill="#ef5350"/>
<rect x="142.00" y="333.8" width="1" height="86.9" fill="#26a69a" fill-opacity="0.75"/>
<rect x="140.40" y="351.0" width="4.2" height="56.6" fill="#26a69a"/>
<rect x="147.05" y="325.8" width="1" height="78.9" fill="#ef5350" fill-opacity="0.75"/>
<rect x="145.45" y="351.0" width="4.2" height="53.7" fill="#ef5350"/>
<rect x="152.11" y="394.6" width="1" height="25.2" fill="#ef5350" fill-opacity="0.75"/>
<rect x="150.51" y="403.0" width="4.2" height="2.9" fill="#ef5350"/>
<rect x="157.17" y="353.5" width="1" height="63.0" fill="#26a69a" fill-opacity="0.75"/>
<rect x="155.57" y="392.9" width="4.2" height="13.0" fill="#26a69a"/>
<rect x="162.22" y="387.1" width="1" height="57.9" fill="#ef5350" fill-opacity="0.75"/>
<rect x="160.62" y="392.1" width="4.2" height="40.6" fill="#ef5350"/>
<rect x="167.28" y="410.9" width="1" height="38.3" fill="#ef5350" fill-opacity="0.75"/>
<rect x="165.68" y="428.2" width="4.2" height="3.7" fill="#ef5350"/>
<rect x="172.34" y="367.8" width="1" height="70.0" fill="#26a69a" fill-opacity="0.75"/>
<rect x="170.74" y="405.9" width="4.2" height="23.2" fill="#26a69a"/>
<rect x="177.40" y="331.1" width="1" height="109.7" fill="#26a69a" fill-opacity="0.75"/>
<rect x="175.80" y="340.0" width="4.2" height="66.4" fill="#26a69a"/>
<rect x="182.46" y="295.0" width="1" height="81.7" fill="#ef5350" fill-opacity="0.75"/>
<rect x="180.86" y="340.0" width="4.2" height="14.8" fill="#ef5350"/>
<rect x="187.51" y="332.0" width="1" height="94.9" fill="#ef5350" fill-opacity="0.75"/>
<rect x="185.91" y="349.8" width="4.2" height="36.9" fill="#ef5350"/>
<rect x="192.57" y="349.8" width="1" height="67.8" fill="#26a69a" fill-opacity="0.75"/>
<rect x="190.97" y="371.1" width="4.2" height="21.8" fill="#26a69a"/>
<rect x="197.63" y="324.9" width="1" height="60.0" fill="#26a69a" fill-opacity="0.75"/>
<rect x="196.03" y="347.9" width="4.2" height="23.7" fill="#26a69a"/>
<rect x="202.69" y="265.9" width="1" height="83.6" fill="#26a69a" fill-opacity="0.75"/>
<rect x="201.09" y="297.0" width="4.2" height="49.8" fill="#26a69a"/>
<rect x="207.74" y="285.8" width="1" height="41.8" fill="#ef5350" fill-opacity="0.75"/>
<rect x="206.14" y="297.0" width="4.2" height="28.5" fill="#ef5350"/>
<rect x="212.80" y="319.0" width="1" height="55.0" fill="#ef5350" fill-opacity="0.75"/>
<rect x="211.20" y="325.3" width="4.2" height="26.4" fill="#ef5350"/>
<rect x="217.86" y="335.6" width="1" height="32.2" fill="#26a69a" fill-opacity="0.75"/>
<rect x="216.26" y="347.8" width="4.2" height="11.8" fill="#26a69a"/>
<rect x="222.91" y="342.4" width="1" height="59.8" fill="#ef5350" fill-opacity="0.75"/>
<rect x="221.31" y="344.8" width="4.2" height="57.4" fill="#ef5350"/>
<rect x="227.97" y="374.0" width="1" height="43.6" fill="#ef5350" fill-opacity="0.75"/>
<rect x="226.37" y="401.8" width="4.2" height="15.8" fill="#ef5350"/>
<rect x="233.03" y="389.9" width="1" height="56.3" fill="#26a69a" fill-opacity="0.75"/>
<rect x="231.43" y="411.9" width="4.2" height="5.7" fill="#26a69a"/>
<rect x="238.09" y="403.0" width="1" height="38.1" fill="#ef5350" fill-opacity="0.75"/>
<rect x="236.49" y="413.1" width="4.2" height="4.5" fill="#ef5350"/>
<rect x="243.15" y="363.9" width="1" height="57.9" fill="#26a69a" fill-opacity="0.75"/>
<rect x="241.55" y="403.9" width="4.2" height="12.2" fill="#26a69a"/>
<rect x="248.20" y="393.3" width="1" height="75.6" fill="#ef5350" fill-opacity="0.75"/>
<rect x="246.60" y="405.9" width="4.2" height="54.1" fill="#ef5350"/>
<rect x="253.26" y="375.0" width="1" height="91.0" fill="#26a69a" fill-opacity="0.75"/>
<rect x="251.66" y="386.2" width="4.2" height="75.6" fill="#26a69a"/>
<rect x="258.32" y="375.8" width="1" height="52.1" fill="#ef5350" fill-opacity="0.75"/>
<rect x="256.72" y="386.2" width="4.2" height="27.7" fill="#ef5350"/>
<rect x="263.38" y="372.3" width="1" height="42.5" fill="#26a69a" fill-opacity="0.75"/>
<rect x="261.77" y="375.8" width="4.2" height="39.0" fill="#26a69a"/>
<rect x="268.43" y="345.0" width="1" height="35.9" fill="#26a69a" fill-opacity="0.75"/>
<rect x="266.83" y="350.9" width="4.2" height="22.7" fill="#26a69a"/>
<rect x="273.49" y="324.0" width="1" height="48.3" fill="#26a69a" fill-opacity="0.75"/>
<rect x="271.89" y="332.9" width="4.2" height="18.8" fill="#26a69a"/>
<rect x="278.55" y="210.2" width="1" height="119.7" fill="#26a69a" fill-opacity="0.75"/>
<rect x="276.95" y="268.9" width="4.2" height="61.0" fill="#26a69a"/>
<rect x="283.61" y="213.6" width="1" height="63.7" fill="#ef5350" fill-opacity="0.75"/>
<rect x="282.00" y="268.9" width="4.2" height="8.4" fill="#ef5350"/>
<rect x="288.66" y="237.6" width="1" height="59.5" fill="#26a69a" fill-opacity="0.75"/>
<rect x="287.06" y="268.0" width="4.2" height="9.8" fill="#26a69a"/>
<rect x="293.72" y="257.1" width="1" height="59.8" fill="#ef5350" fill-opacity="0.75"/>
<rect x="292.12" y="271.4" width="4.2" height="37.5" fill="#ef5350"/>
<rect x="298.78" y="294.1" width="1" height="93.1" fill="#ef5350" fill-opacity="0.75"/>
<rect x="297.18" y="307.2" width="4.2" height="77.9" fill="#ef5350"/>
<rect x="303.83" y="360.7" width="1" height="33.2" fill="#ef5350" fill-opacity="0.75"/>
<rect x="302.23" y="386.0" width="4.2" height="3.9" fill="#ef5350"/>
<rect x="308.89" y="342.7" width="1" height="72.2" fill="#26a69a" fill-opacity="0.75"/>
<rect x="307.29" y="376.5" width="4.2" height="13.4" fill="#26a69a"/>
<rect x="313.95" y="356.5" width="1" height="51.5" fill="#ef5350" fill-opacity="0.75"/>
<rect x="312.35" y="375.1" width="4.2" height="3.0" fill="#ef5350"/>
<rect x="319.01" y="352.9" width="1" height="46.6" fill="#ef5350" fill-opacity="0.75"/>
<rect x="317.41" y="378.8" width="4.2" height="12.0" fill="#ef5350"/>
<rect x="324.06" y="329.0" width="1" height="78.9" fill="#26a69a" fill-opacity="0.75"/>
<rect x="322.46" y="333.2" width="4.2" height="57.6" fill="#26a69a"/>
<rect x="329.12" y="303.8" width="1" height="58.8" fill="#ef5350" fill-opacity="0.75"/>
<rect x="327.52" y="332.9" width="4.2" height="5.4" fill="#ef5350"/>
<rect x="334.18" y="269.9" width="1" height="77.1" fill="#26a69a" fill-opacity="0.75"/>
<rect x="332.58" y="326.2" width="4.2" height="12.1" fill="#26a69a"/>
<rect x="339.24" y="279.8" width="1" height="61.0" fill="#26a69a" fill-opacity="0.75"/>
<rect x="337.64" y="295.8" width="4.2" height="30.2" fill="#26a69a"/>
<rect x="344.30" y="292.1" width="1" height="43.3" fill="#ef5350" fill-opacity="0.75"/>
<rect x="342.69" y="297.1" width="4.2" height="38.3" fill="#ef5350"/>
<rect x="349.35" y="308.9" width="1" height="41.1" fill="#ef5350" fill-opacity="0.75"/>
<rect x="347.75" y="334.9" width="4.2" height="15.1" fill="#ef5350"/>
<rect x="354.41" y="297.1" width="1" height="58.8" fill="#26a69a" fill-opacity="0.75"/>
<rect x="352.81" y="305.8" width="4.2" height="45.0" fill="#26a69a"/>
<rect x="359.47" y="256.0" width="1" height="49.8" fill="#26a69a" fill-opacity="0.75"/>
<rect x="357.87" y="264.4" width="4.2" height="41.4" fill="#26a69a"/>
<rect x="364.53" y="251.4" width="1" height="67.2" fill="#ef5350" fill-opacity="0.75"/>
<rect x="362.93" y="263.2" width="4.2" height="50.7" fill="#ef5350"/>
<rect x="369.58" y="299.6" width="1" height="52.4" fill="#ef5350" fill-opacity="0.75"/>
<rect x="367.98" y="313.1" width="4.2" height="38.9" fill="#ef5350"/>
<rect x="374.64" y="330.2" width="1" height="46.6" fill="#ef5350" fill-opacity="0.75"/>
<rect x="373.04" y="350.8" width="4.2" height="19.0" fill="#ef5350"/>
<rect x="379.70" y="352.2" width="1" height="64.9" fill="#ef5350" fill-opacity="0.75"/>
<rect x="378.10" y="366.4" width="4.2" height="49.6" fill="#ef5350"/>
<rect x="384.75" y="399.0" width="1" height="44.2" fill="#ef5350" fill-opacity="0.75"/>
<rect x="383.15" y="415.1" width="4.2" height="23.5" fill="#ef5350"/>
<rect x="389.81" y="397.8" width="1" height="40.0" fill="#26a69a" fill-opacity="0.75"/>
<rect x="388.21" y="423.0" width="4.2" height="14.8" fill="#26a69a"/>
<rect x="394.87" y="391.1" width="1" height="38.6" fill="#26a69a" fill-opacity="0.75"/>
<rect x="393.27" y="420.8" width="4.2" height="8.1" fill="#26a69a"/>
<rect x="399.93" y="413.8" width="1" height="42.0" fill="#ef5350" fill-opacity="0.75"/>
<rect x="398.33" y="420.8" width="4.2" height="31.3" fill="#ef5350"/>
<rect x="404.99" y="387.8" width="1" height="91.2" fill="#26a69a" fill-opacity="0.75"/>
<rect x="403.38" y="424.7" width="4.2" height="28.2" fill="#26a69a"/>
<rect x="410.04" y="366.3" width="1" height="58.4" fill="#26a69a" fill-opacity="0.75"/>
<rect x="408.44" y="372.0" width="4.2" height="52.7" fill="#26a69a"/>
<rect x="415.10" y="361.8" width="1" height="33.2" fill="#26a69a" fill-opacity="0.75"/>
<rect x="413.50" y="368.2" width="4.2" height="5.7" fill="#26a69a"/>
<rect x="420.16" y="344.1" width="1" height="31.8" fill="#26a69a" fill-opacity="0.75"/>
<rect x="418.56" y="364.2" width="4.2" height="2.5" fill="#26a69a"/>
<rect x="425.22" y="329.8" width="1" height="58.0" fill="#26a69a" fill-opacity="0.75"/>
<rect x="423.62" y="341.1" width="4.2" height="25.4" fill="#26a69a"/>
<rect x="430.27" y="328.1" width="1" height="35.2" fill="#ef5350" fill-opacity="0.75"/>
<rect x="428.67" y="341.1" width="4.2" height="22.2" fill="#ef5350"/>
<rect x="435.33" y="344.9" width="1" height="58.8" fill="#ef5350" fill-opacity="0.75"/>
<rect x="433.73" y="359.6" width="4.2" height="44.1" fill="#ef5350"/>
<rect x="440.39" y="377.7" width="1" height="32.7" fill="#26a69a" fill-opacity="0.75"/>
<rect x="438.79" y="397.0" width="4.2" height="5.4" fill="#26a69a"/>
<rect x="445.44" y="387.8" width="1" height="28.5" fill="#ef5350" fill-opacity="0.75"/>
<rect x="443.84" y="397.0" width="4.2" height="18.1" fill="#ef5350"/>
<rect x="450.50" y="373.4" width="1" height="69.4" fill="#ef5350" fill-opacity="0.75"/>
<rect x="448.90" y="414.6" width="4.2" height="20.5" fill="#ef5350"/>
<rect x="455.56" y="370.9" width="1" height="65.6" fill="#26a69a" fill-opacity="0.75"/>
<rect x="453.96" y="376.4" width="4.2" height="58.7" fill="#26a69a"/>
<rect x="460.62" y="341.1" width="1" height="36.9" fill="#ef5350" fill-opacity="0.75"/>
<rect x="459.02" y="375.1" width="4.2" height="2.9" fill="#ef5350"/>
<rect x="465.68" y="352.4" width="1" height="31.2" fill="#26a69a" fill-opacity="0.75"/>
<rect x="464.07" y="365.2" width="4.2" height="9.9" fill="#26a69a"/>
<rect x="470.73" y="350.4" width="1" height="46.6" fill="#26a69a" fill-opacity="0.75"/>
<rect x="469.13" y="354.9" width="4.2" height="11.0" fill="#26a69a"/>
<rect x="475.79" y="324.2" width="1" height="56.8" fill="#26a69a" fill-opacity="0.75"/>
<rect x="474.19" y="328.9" width="4.2" height="29.0" fill="#26a69a"/>
<rect x="480.85" y="302.8" width="1" height="53.8" fill="#ef5350" fill-opacity="0.75"/>
<rect x="479.25" y="331.9" width="4.2" height="24.7" fill="#ef5350"/>
<rect x="485.91" y="321.0" width="1" height="57.0" fill="#ef5350" fill-opacity="0.75"/>
<rect x="484.31" y="356.6" width="4.2" height="21.4" fill="#ef5350"/>
<rect x="490.96" y="321.3" width="1" height="61.2" fill="#26a69a" fill-opacity="0.75"/>
<rect x="489.36" y="331.0" width="4.2" height="46.9" fill="#26a69a"/>
<rect x="496.02" y="298.3" width="1" height="45.7" fill="#26a69a" fill-opacity="0.75"/>
<rect x="494.42" y="304.8" width="4.2" height="27.1" fill="#26a69a"/>
<rect x="501.08" y="294.1" width="1" height="28.9" fill="#ef5350" fill-opacity="0.75"/>
<rect x="499.48" y="304.8" width="4.2" height="18.2" fill="#ef5350"/>
<rect x="506.13" y="264.2" width="1" height="58.8" fill="#26a69a" fill-opacity="0.75"/>
<rect x="504.53" y="294.1" width="4.2" height="28.9" fill="#26a69a"/>
<rect x="511.19" y="217.5" width="1" height="89.5" fill="#26a69a" fill-opacity="0.75"/>
<rect x="509.59" y="257.5" width="4.2" height="36.6" fill="#26a69a"/>
<rect x="516.25" y="211.3" width="1" height="51.2" fill="#26a69a" fill-opacity="0.75"/>
<rect x="514.65" y="213.0" width="4.2" height="41.1" fill="#26a69a"/>
<rect x="521.31" y="207.6" width="1" height="44.0" fill="#ef5350" fill-opacity="0.75"/>
<rect x="519.71" y="215.8" width="4.2" height="32.1" fill="#ef5350"/>
<rect x="526.37" y="203.4" width="1" height="49.4" fill="#26a69a" fill-opacity="0.75"/>
<rect x="524.76" y="223.1" width="4.2" height="24.8" fill="#26a69a"/>
<rect x="531.42" y="207.9" width="1" height="65.0" fill="#ef5350" fill-opacity="0.75"/>
<rect x="529.82" y="217.5" width="4.2" height="55.3" fill="#ef5350"/>
<rect x="536.48" y="261.9" width="1" height="40.9" fill="#26a69a" fill-opacity="0.75"/>
<rect x="534.88" y="270.1" width="4.2" height="2.8" fill="#26a69a"/>
<rect x="541.54" y="237.3" width="1" height="49.6" fill="#26a69a" fill-opacity="0.75"/>
<rect x="539.94" y="254.5" width="4.2" height="15.6" fill="#26a69a"/>
<rect x="546.60" y="243.7" width="1" height="28.9" fill="#26a69a" fill-opacity="0.75"/>
<rect x="545.00" y="254.1" width="4.2" height="1.2" fill="#26a69a"/>
<rect x="551.65" y="223.1" width="1" height="41.6" fill="#ef5350" fill-opacity="0.75"/>
<rect x="550.05" y="253.0" width="4.2" height="7.6" fill="#ef5350"/>
<rect x="556.71" y="234.5" width="1" height="55.7" fill="#ef5350" fill-opacity="0.75"/>
<rect x="555.11" y="258.8" width="4.2" height="12.3" fill="#ef5350"/>
<rect x="561.77" y="245.2" width="1" height="35.8" fill="#ef5350" fill-opacity="0.75"/>
<rect x="560.17" y="269.9" width="4.2" height="7.2" fill="#ef5350"/>
<rect x="566.83" y="260.0" width="1" height="28.9" fill="#ef5350" fill-opacity="0.75"/>
<rect x="565.23" y="276.8" width="4.2" height="2.0" fill="#ef5350"/>
<rect x="571.88" y="265.9" width="1" height="42.0" fill="#ef5350" fill-opacity="0.75"/>
<rect x="570.28" y="269.9" width="4.2" height="32.1" fill="#ef5350"/>
<rect x="576.94" y="270.1" width="1" height="34.4" fill="#ef5350" fill-opacity="0.75"/>
<rect x="575.34" y="302.8" width="4.2" height="1.7" fill="#ef5350"/>
<rect x="582.00" y="286.0" width="1" height="35.0" fill="#ef5350" fill-opacity="0.75"/>
<rect x="580.40" y="305.9" width="4.2" height="7.0" fill="#ef5350"/>
<rect x="587.06" y="274.3" width="1" height="39.8" fill="#26a69a" fill-opacity="0.75"/>
<rect x="585.46" y="283.0" width="4.2" height="27.9" fill="#26a69a"/>
<rect x="592.11" y="257.0" width="1" height="40.8" fill="#26a69a" fill-opacity="0.75"/>
<rect x="590.51" y="272.9" width="4.2" height="15.1" fill="#26a69a"/>
<rect x="597.17" y="248.8" width="1" height="40.1" fill="#ef5350" fill-opacity="0.75"/>
<rect x="595.57" y="272.9" width="4.2" height="16.0" fill="#ef5350"/>
<rect x="602.23" y="223.4" width="1" height="64.6" fill="#26a69a" fill-opacity="0.75"/>
<rect x="600.63" y="237.8" width="4.2" height="48.2" fill="#26a69a"/>
<rect x="607.28" y="226.1" width="1" height="36.8" fill="#ef5350" fill-opacity="0.75"/>
<rect x="605.68" y="241.0" width="4.2" height="6.1" fill="#ef5350"/>
<rect x="612.34" y="188.3" width="1" height="55.4" fill="#26a69a" fill-opacity="0.75"/>
<rect x="610.74" y="196.4" width="4.2" height="47.3" fill="#26a69a"/>
<rect x="617.40" y="158.0" width="1" height="43.7" fill="#ef5350" fill-opacity="0.75"/>
<rect x="615.80" y="196.0" width="4.2" height="2.6" fill="#ef5350"/>
<rect x="622.46" y="177.0" width="1" height="35.5" fill="#26a69a" fill-opacity="0.75"/>
<rect x="620.86" y="198.0" width="4.2" height="1.2" fill="#26a69a"/>
<rect x="627.51" y="193.6" width="1" height="39.9" fill="#ef5350" fill-opacity="0.75"/>
<rect x="625.91" y="199.0" width="4.2" height="2.7" fill="#ef5350"/>
<rect x="632.57" y="175.3" width="1" height="29.3" fill="#26a69a" fill-opacity="0.75"/>
<rect x="630.97" y="180.8" width="4.2" height="20.9" fill="#26a69a"/>
<rect x="637.63" y="166.1" width="1" height="55.8" fill="#ef5350" fill-opacity="0.75"/>
<rect x="636.03" y="181.9" width="4.2" height="21.8" fill="#ef5350"/>
<rect x="642.69" y="176.1" width="1" height="40.2" fill="#26a69a" fill-opacity="0.75"/>
<rect x="641.09" y="193.0" width="4.2" height="10.6" fill="#26a69a"/>
<rect x="647.75" y="158.0" width="1" height="43.7" fill="#26a69a" fill-opacity="0.75"/>
<rect x="646.14" y="178.2" width="4.2" height="23.5" fill="#26a69a"/>
<rect x="652.80" y="140.1" width="1" height="70.0" fill="#ef5350" fill-opacity="0.75"/>
<rect x="651.20" y="179.4" width="4.2" height="29.4" fill="#ef5350"/>
<rect x="657.86" y="194.9" width="1" height="38.3" fill="#ef5350" fill-opacity="0.75"/>
<rect x="656.26" y="208.8" width="4.2" height="9.2" fill="#ef5350"/>
<rect x="662.92" y="163.5" width="1" height="60.9" fill="#26a69a" fill-opacity="0.75"/>
<rect x="661.32" y="208.0" width="4.2" height="11.8" fill="#26a69a"/>
<rect x="667.98" y="183.0" width="1" height="74.2" fill="#ef5350" fill-opacity="0.75"/>
<rect x="666.38" y="209.2" width="4.2" height="40.6" fill="#ef5350"/>
<rect x="673.03" y="229.0" width="1" height="47.8" fill="#26a69a" fill-opacity="0.75"/>
<rect x="671.43" y="237.9" width="4.2" height="11.9" fill="#26a69a"/>
<rect x="678.09" y="205.9" width="1" height="34.6" fill="#26a69a" fill-opacity="0.75"/>
<rect x="676.49" y="214.9" width="4.2" height="24.2" fill="#26a69a"/>
<rect x="683.15" y="189.2" width="1" height="26.8" fill="#26a69a" fill-opacity="0.75"/>
<rect x="681.55" y="189.2" width="4.2" height="24.5" fill="#26a69a"/>
<rect x="688.21" y="171.9" width="1" height="47.9" fill="#26a69a" fill-opacity="0.75"/>
<rect x="686.61" y="179.4" width="4.2" height="12.5" fill="#26a69a"/>
<rect x="693.26" y="138.3" width="1" height="51.0" fill="#26a69a" fill-opacity="0.75"/>
<rect x="691.66" y="162.2" width="4.2" height="13.7" fill="#26a69a"/>
<rect x="698.32" y="154.2" width="1" height="46.3" fill="#ef5350" fill-opacity="0.75"/>
<rect x="696.72" y="160.1" width="4.2" height="36.3" fill="#ef5350"/>
<rect x="703.38" y="171.0" width="1" height="53.8" fill="#ef5350" fill-opacity="0.75"/>
<rect x="701.78" y="194.9" width="4.2" height="17.1" fill="#ef5350"/>
<rect x="708.44" y="158.2" width="1" height="54.6" fill="#26a69a" fill-opacity="0.75"/>
<rect x="706.84" y="165.0" width="4.2" height="47.8" fill="#26a69a"/>
<rect x="713.49" y="125.7" width="1" height="43.5" fill="#26a69a" fill-opacity="0.75"/>
<rect x="711.89" y="158.0" width="4.2" height="9.9" fill="#26a69a"/>
<rect x="718.55" y="128.7" width="1" height="36.1" fill="#26a69a" fill-opacity="0.75"/>
<rect x="716.95" y="137.1" width="4.2" height="20.5" fill="#26a69a"/>
<rect x="723.61" y="130.4" width="1" height="24.7" fill="#ef5350" fill-opacity="0.75"/>
<rect x="722.01" y="139.6" width="4.2" height="10.1" fill="#ef5350"/>
<rect x="728.66" y="142.5" width="1" height="66.5" fill="#ef5350" fill-opacity="0.75"/>
<rect x="727.06" y="150.2" width="4.2" height="58.8" fill="#ef5350"/>
<rect x="733.72" y="178.3" width="1" height="42.4" fill="#26a69a" fill-opacity="0.75"/>
<rect x="732.12" y="190.7" width="4.2" height="18.3" fill="#26a69a"/>
<rect x="738.78" y="179.1" width="1" height="49.9" fill="#ef5350" fill-opacity="0.75"/>
<rect x="737.18" y="190.0" width="4.2" height="20.7" fill="#ef5350"/>
<rect x="743.84" y="202.2" width="1" height="45.7" fill="#ef5350" fill-opacity="0.75"/>
<rect x="742.24" y="210.5" width="4.2" height="28.2" fill="#ef5350"/>
<rect x="748.89" y="224.9" width="1" height="41.0" fill="#ef5350" fill-opacity="0.75"/>
<rect x="747.29" y="237.5" width="4.2" height="12.1" fill="#ef5350"/>
<rect x="753.95" y="233.2" width="1" height="37.1" fill="#ef5350" fill-opacity="0.75"/>
<rect x="752.35" y="247.9" width="4.2" height="19.4" fill="#ef5350"/>
<rect x="759.01" y="260.2" width="1" height="33.9" fill="#ef5350" fill-opacity="0.75"/>
<rect x="757.41" y="266.9" width="4.2" height="25.0" fill="#ef5350"/>
<rect x="764.07" y="277.3" width="1" height="47.1" fill="#ef5350" fill-opacity="0.75"/>
<rect x="762.47" y="293.0" width="4.2" height="19.8" fill="#ef5350"/>
<rect x="769.12" y="297.0" width="1" height="99.6" fill="#ef5350" fill-opacity="0.75"/>
<rect x="767.52" y="311.1" width="4.2" height="85.5" fill="#ef5350"/>
<rect x="774.18" y="362.2" width="1" height="36.6" fill="#26a69a" fill-opacity="0.75"/>
<rect x="772.58" y="373.6" width="4.2" height="18.5" fill="#26a69a"/>
<rect x="779.24" y="358.3" width="1" height="30.8" fill="#ef5350" fill-opacity="0.75"/>
<rect x="777.64" y="376.1" width="4.2" height="9.1" fill="#ef5350"/>
<rect x="784.30" y="375.3" width="1" height="28.0" fill="#ef5350" fill-opacity="0.75"/>
<rect x="782.70" y="382.0" width="4.2" height="1.7" fill="#ef5350"/>
<rect x="789.36" y="363.9" width="1" height="38.1" fill="#26a69a" fill-opacity="0.75"/>
<rect x="787.75" y="382.0" width="4.2" height="2.9" fill="#26a69a"/>
<rect x="794.41" y="358.3" width="1" height="31.3" fill="#26a69a" fill-opacity="0.75"/>
<rect x="792.81" y="375.1" width="4.2" height="1.2" fill="#26a69a"/>
<rect x="799.47" y="358.0" width="1" height="51.2" fill="#ef5350" fill-opacity="0.75"/>
<rect x="797.87" y="372.3" width="4.2" height="6.3" fill="#ef5350"/>
<rect x="804.53" y="331.1" width="1" height="66.7" fill="#26a69a" fill-opacity="0.75"/>
<rect x="802.93" y="355.0" width="4.2" height="34.6" fill="#26a69a"/>
<rect x="809.59" y="304.2" width="1" height="53.8" fill="#26a69a" fill-opacity="0.75"/>
<rect x="807.99" y="323.9" width="4.2" height="29.9" fill="#26a69a"/>
<rect x="814.64" y="298.0" width="1" height="61.7" fill="#ef5350" fill-opacity="0.75"/>
<rect x="813.04" y="323.0" width="4.2" height="6.9" fill="#ef5350"/>
<rect x="819.70" y="320.2" width="1" height="59.6" fill="#ef5350" fill-opacity="0.75"/>
<rect x="818.10" y="333.1" width="4.2" height="21.9" fill="#ef5350"/>
<rect x="824.76" y="281.2" width="1" height="71.7" fill="#26a69a" fill-opacity="0.75"/>
<rect x="823.16" y="296.9" width="4.2" height="54.4" fill="#26a69a"/>
<rect x="829.82" y="289.1" width="1" height="54.6" fill="#ef5350" fill-opacity="0.75"/>
<rect x="828.22" y="295.8" width="4.2" height="19.7" fill="#ef5350"/>
<rect x="834.87" y="252.4" width="1" height="66.4" fill="#26a69a" fill-opacity="0.75"/>
<rect x="833.27" y="272.8" width="4.2" height="39.8" fill="#26a69a"/>
<rect x="839.93" y="230.3" width="1" height="45.4" fill="#26a69a" fill-opacity="0.75"/>
<rect x="838.33" y="242.9" width="4.2" height="29.9" fill="#26a69a"/>
<rect x="844.99" y="237.1" width="1" height="38.9" fill="#ef5350" fill-opacity="0.75"/>
<rect x="843.39" y="245.0" width="4.2" height="8.0" fill="#ef5350"/>
<rect x="850.05" y="216.9" width="1" height="55.9" fill="#ef5350" fill-opacity="0.75"/>
<rect x="848.45" y="245.2" width="4.2" height="2.8" fill="#ef5350"/>
<rect x="855.10" y="229.1" width="1" height="25.6" fill="#26a69a" fill-opacity="0.75"/>
<rect x="853.50" y="245.0" width="4.2" height="5.1" fill="#26a69a"/>
<rect x="860.16" y="211.9" width="1" height="42.0" fill="#26a69a" fill-opacity="0.75"/>
<rect x="858.56" y="242.9" width="4.2" height="3.1" fill="#26a69a"/>
<rect x="865.22" y="192.1" width="1" height="61.8" fill="#26a69a" fill-opacity="0.75"/>
<rect x="863.62" y="229.0" width="4.2" height="12.9" fill="#26a69a"/>
<rect x="870.27" y="210.2" width="1" height="53.1" fill="#ef5350" fill-opacity="0.75"/>
<rect x="868.67" y="232.0" width="4.2" height="23.9" fill="#ef5350"/>
<rect x="875.33" y="230.0" width="1" height="23.0" fill="#26a69a" fill-opacity="0.75"/>
<rect x="873.73" y="238.7" width="4.2" height="12.2" fill="#26a69a"/>
<rect x="880.39" y="234.1" width="1" height="48.0" fill="#ef5350" fill-opacity="0.75"/>
<rect x="878.79" y="241.8" width="4.2" height="12.1" fill="#ef5350"/>
<rect x="885.45" y="243.0" width="1" height="76.9" fill="#ef5350" fill-opacity="0.75"/>
<rect x="883.85" y="253.9" width="4.2" height="58.7" fill="#ef5350"/>
<rect x="890.50" y="290.8" width="1" height="37.8" fill="#26a69a" fill-opacity="0.75"/>
<rect x="888.90" y="305.1" width="4.2" height="8.7" fill="#26a69a"/>
<rect x="895.56" y="297.0" width="1" height="45.5" fill="#ef5350" fill-opacity="0.75"/>
<rect x="893.96" y="302.2" width="4.2" height="40.3" fill="#ef5350"/>
<rect x="900.62" y="315.2" width="1" height="42.8" fill="#ef5350" fill-opacity="0.75"/>
<rect x="899.02" y="338.2" width="4.2" height="19.8" fill="#ef5350"/>
<rect x="905.68" y="333.3" width="1" height="26.4" fill="#26a69a" fill-opacity="0.75"/>
<rect x="904.08" y="343.2" width="4.2" height="15.6" fill="#26a69a"/>
<rect x="910.74" y="315.5" width="1" height="31.9" fill="#26a69a" fill-opacity="0.75"/>
<rect x="909.13" y="329.1" width="4.2" height="14.6" fill="#26a69a"/>
<rect x="915.79" y="320.2" width="1" height="29.4" fill="#ef5350" fill-opacity="0.75"/>
<rect x="914.19" y="333.1" width="4.2" height="12.6" fill="#ef5350"/>
<rect x="920.85" y="334.0" width="1" height="26.5" fill="#ef5350" fill-opacity="0.75"/>
<rect x="919.25" y="345.4" width="4.2" height="15.1" fill="#ef5350"/>
<rect x="925.91" y="326.9" width="1" height="34.8" fill="#26a69a" fill-opacity="0.75"/>
<rect x="924.31" y="340.0" width="4.2" height="21.7" fill="#26a69a"/>
<rect x="930.97" y="316.3" width="1" height="37.5" fill="#26a69a" fill-opacity="0.75"/>
<rect x="929.37" y="335.3" width="4.2" height="11.3" fill="#26a69a"/>
<rect x="936.02" y="318.5" width="1" height="66.4" fill="#ef5350" fill-opacity="0.75"/>
<rect x="934.42" y="339.5" width="4.2" height="24.3" fill="#ef5350"/>
<rect x="941.08" y="353.8" width="1" height="47.4" fill="#ef5350" fill-opacity="0.75"/>
<rect x="939.48" y="367.1" width="4.2" height="33.7" fill="#ef5350"/>
<rect x="946.14" y="352.1" width="1" height="49.7" fill="#26a69a" fill-opacity="0.75"/>
<rect x="944.54" y="374.1" width="4.2" height="27.7" fill="#26a69a"/>
<rect x="951.20" y="365.2" width="1" height="36.6" fill="#ef5350" fill-opacity="0.75"/>
<rect x="949.60" y="370.1" width="4.2" height="21.9" fill="#ef5350"/>
<rect x="956.25" y="386.5" width="1" height="26.2" fill="#ef5350" fill-opacity="0.75"/>
<rect x="954.65" y="393.2" width="4.2" height="10.3" fill="#ef5350"/>
<rect x="961.31" y="393.6" width="1" height="32.7" fill="#26a69a" fill-opacity="0.75"/>
<rect x="959.71" y="409.0" width="4.2" height="1.2" fill="#26a69a"/>
<rect x="966.37" y="390.1" width="1" height="56.1" fill="#ef5350" fill-opacity="0.75"/>
<rect x="964.77" y="409.2" width="4.2" height="21.3" fill="#ef5350"/>
<rect x="971.43" y="410.9" width="1" height="29.7" fill="#26a69a" fill-opacity="0.75"/>
<rect x="969.83" y="417.9" width="4.2" height="15.7" fill="#26a69a"/>
<rect x="976.48" y="409.4" width="1" height="46.7" fill="#ef5350" fill-opacity="0.75"/>
<rect x="974.88" y="417.2" width="4.2" height="29.8" fill="#ef5350"/>
<rect x="981.54" y="385.2" width="1" height="66.3" fill="#26a69a" fill-opacity="0.75"/>
<rect x="979.94" y="427.5" width="4.2" height="20.2" fill="#26a69a"/>
<rect x="986.60" y="412.1" width="1" height="32.7" fill="#ef5350" fill-opacity="0.75"/>
<rect x="985.00" y="423.3" width="4.2" height="21.5" fill="#ef5350"/>
<rect x="991.65" y="396.9" width="1" height="49.1" fill="#26a69a" fill-opacity="0.75"/>
<rect x="990.05" y="437.8" width="4.2" height="8.2" fill="#26a69a"/>
<rect x="996.71" y="411.2" width="1" height="35.6" fill="#26a69a" fill-opacity="0.75"/>
<rect x="995.11" y="423.3" width="4.2" height="12.3" fill="#26a69a"/>
<rect x="1001.77" y="379.7" width="1" height="55.0" fill="#26a69a" fill-opacity="0.75"/>
<rect x="1000.17" y="388.0" width="4.2" height="33.8" fill="#26a69a"/>
<rect x="1006.83" y="378.1" width="1" height="51.6" fill="#ef5350" fill-opacity="0.75"/>
<rect x="1005.23" y="386.0" width="4.2" height="40.0" fill="#ef5350"/>
<rect x="1011.88" y="422.1" width="1" height="30.8" fill="#ef5350" fill-opacity="0.75"/>
<rect x="1010.28" y="433.1" width="4.2" height="2.8" fill="#ef5350"/>
<rect x="1016.94" y="415.1" width="1" height="20.0" fill="#26a69a" fill-opacity="0.75"/>
<rect x="1015.34" y="426.0" width="4.2" height="9.1" fill="#26a69a"/>
<rect x="1022.00" y="412.1" width="1" height="20.1" fill="#26a69a" fill-opacity="0.75"/>
<rect x="1020.40" y="423.3" width="4.2" height="3.9" fill="#26a69a"/>
<rect x="1027.06" y="412.1" width="1" height="23.5" fill="#ef5350" fill-opacity="0.75"/>
<rect x="1025.46" y="423.0" width="4.2" height="12.6" fill="#ef5350"/>
<rect x="1032.12" y="428.0" width="1" height="45.9" fill="#ef5350" fill-opacity="0.75"/>
<rect x="1030.52" y="440.3" width="4.2" height="30.5" fill="#ef5350"/>
<rect x="1037.17" y="409.9" width="1" height="66.0" fill="#26a69a" fill-opacity="0.75"/>
<rect x="1035.57" y="428.9" width="4.2" height="42.8" fill="#26a69a"/>
<rect x="1042.23" y="381.8" width="1" height="45.9" fill="#26a69a" fill-opacity="0.75"/>
<rect x="1040.63" y="413.2" width="4.2" height="11.5" fill="#26a69a"/>
<rect x="1047.29" y="389.1" width="1" height="34.7" fill="#26a69a" fill-opacity="0.75"/>
<rect x="1045.69" y="406.2" width="4.2" height="3.7" fill="#26a69a"/>
<rect x="1052.35" y="394.9" width="1" height="30.3" fill="#26a69a" fill-opacity="0.75"/>
<rect x="1050.75" y="402.8" width="4.2" height="1.2" fill="#26a69a"/>
<rect x="1057.40" y="370.9" width="1" height="42.5" fill="#26a69a" fill-opacity="0.75"/>
<rect x="1055.80" y="397.8" width="4.2" height="4.2" fill="#26a69a"/>
<rect x="1062.46" y="379.8" width="1" height="19.2" fill="#26a69a" fill-opacity="0.75"/>
<rect x="1060.86" y="394.1" width="4.2" height="2.8" fill="#26a69a"/>
<rect x="1067.52" y="375.5" width="1" height="40.3" fill="#ef5350" fill-opacity="0.75"/>
<rect x="1065.92" y="393.6" width="4.2" height="22.2" fill="#ef5350"/>
<rect x="1072.58" y="406.2" width="1" height="30.7" fill="#ef5350" fill-opacity="0.75"/>
<rect x="1070.98" y="415.1" width="4.2" height="13.8" fill="#ef5350"/>
<rect x="1077.63" y="393.6" width="1" height="37.3" fill="#26a69a" fill-opacity="0.75"/>
<rect x="1076.03" y="407.0" width="4.2" height="16.0" fill="#26a69a"/>
<rect x="1082.69" y="386.0" width="1" height="24.9" fill="#ef5350" fill-opacity="0.75"/>
<rect x="1081.09" y="407.0" width="4.2" height="3.9" fill="#ef5350"/>
<rect x="1087.75" y="388.0" width="1" height="25.4" fill="#26a69a" fill-opacity="0.75"/>
<rect x="1086.15" y="400.8" width="4.2" height="12.6" fill="#26a69a"/>
<rect x="1092.81" y="381.8" width="1" height="25.2" fill="#26a69a" fill-opacity="0.75"/>
<rect x="1091.21" y="399.5" width="4.2" height="1.2" fill="#26a69a"/>
<rect x="1097.86" y="374.3" width="1" height="27.7" fill="#26a69a" fill-opacity="0.75"/>
<rect x="1096.26" y="394.1" width="4.2" height="6.7" fill="#26a69a"/>
<rect x="1102.92" y="382.2" width="1" height="25.7" fill="#ef5350" fill-opacity="0.75"/>
<rect x="1101.32" y="389.1" width="4.2" height="16.8" fill="#ef5350"/>
<rect x="1107.98" y="394.9" width="1" height="31.9" fill="#ef5350" fill-opacity="0.75"/>
<rect x="1106.38" y="408.2" width="4.2" height="8.1" fill="#ef5350"/>
<rect x="1113.04" y="391.1" width="1" height="29.7" fill="#26a69a" fill-opacity="0.75"/>
<rect x="1111.44" y="400.8" width="4.2" height="20.0" fill="#26a69a"/>
<rect x="1118.09" y="391.4" width="1" height="50.6" fill="#ef5350" fill-opacity="0.75"/>
<rect x="1116.49" y="398.1" width="4.2" height="18.7" fill="#ef5350"/>
<rect x="1123.15" y="409.9" width="1" height="58.8" fill="#ef5350" fill-opacity="0.75"/>
<rect x="1121.55" y="412.1" width="4.2" height="56.6" fill="#ef5350"/>
<rect x="1128.21" y="428.0" width="1" height="42.0" fill="#26a69a" fill-opacity="0.75"/>
<rect x="1126.61" y="438.9" width="4.2" height="28.3" fill="#26a69a"/>
<rect x="1133.27" y="402.1" width="1" height="38.5" fill="#26a69a" fill-opacity="0.75"/>
<rect x="1131.67" y="423.1" width="4.2" height="16.0" fill="#26a69a"/>
<rect x="1138.32" y="396.2" width="1" height="27.8" fill="#26a69a" fill-opacity="0.75"/>
<rect x="1136.72" y="403.0" width="4.2" height="21.0" fill="#26a69a"/>
<rect x="1143.38" y="398.9" width="1" height="32.4" fill="#ef5350" fill-opacity="0.75"/>
<rect x="1141.78" y="403.8" width="4.2" height="26.7" fill="#ef5350"/>
<rect x="1148.44" y="404.5" width="1" height="25.3" fill="#26a69a" fill-opacity="0.75"/>
<rect x="1146.84" y="411.2" width="4.2" height="18.6" fill="#26a69a"/>
<rect x="1153.50" y="392.0" width="1" height="30.3" fill="#ef5350" fill-opacity="0.75"/>
<rect x="1151.90" y="414.7" width="4.2" height="7.1" fill="#ef5350"/>
<rect x="1158.55" y="400.4" width="1" height="30.3" fill="#ef5350" fill-opacity="0.75"/>
<rect x="1156.95" y="420.8" width="4.2" height="1.3" fill="#ef5350"/>
<rect x="1163.61" y="397.7" width="1" height="29.2" fill="#26a69a" fill-opacity="0.75"/>
<rect x="1162.01" y="420.4" width="4.2" height="2.5" fill="#26a69a"/>
<rect x="1168.67" y="365.3" width="1" height="68.5" fill="#26a69a" fill-opacity="0.75"/>
<rect x="1167.07" y="369.0" width="4.2" height="51.4" fill="#26a69a"/>
<rect x="1173.73" y="341.0" width="1" height="43.6" fill="#ef5350" fill-opacity="0.75"/>
<rect x="1172.13" y="370.0" width="4.2" height="5.9" fill="#ef5350"/>
<rect x="1178.78" y="363.1" width="1" height="24.9" fill="#ef5350" fill-opacity="0.75"/>
<rect x="1177.18" y="375.9" width="4.2" height="4.0" fill="#ef5350"/>
<rect x="1183.84" y="358.1" width="1" height="24.8" fill="#26a69a" fill-opacity="0.75"/>
<rect x="1182.24" y="374.0" width="4.2" height="5.9" fill="#26a69a"/>
<rect x="1188.90" y="362.3" width="1" height="30.7" fill="#ef5350" fill-opacity="0.75"/>
<rect x="1187.30" y="375.4" width="4.2" height="17.6" fill="#ef5350"/>
<rect x="1193.95" y="380.9" width="1" height="37.0" fill="#ef5350" fill-opacity="0.75"/>
<rect x="1192.36" y="388.0" width="4.2" height="25.2" fill="#ef5350"/>
<rect x="1199.01" y="402.3" width="1" height="32.2" fill="#26a69a" fill-opacity="0.75"/>
<rect x="1197.41" y="409.5" width="4.2" height="3.7" fill="#26a69a"/>
<rect x="1204.07" y="391.0" width="1" height="31.1" fill="#26a69a" fill-opacity="0.75"/>
<rect x="1202.47" y="398.9" width="4.2" height="10.9" fill="#26a69a"/>
<rect x="1209.13" y="375.9" width="1" height="44.8" fill="#26a69a" fill-opacity="0.75"/>
<rect x="1207.53" y="392.2" width="4.2" height="8.4" fill="#26a69a"/>
<rect x="1214.18" y="365.8" width="1" height="33.1" fill="#26a69a" fill-opacity="0.75"/>
<rect x="1212.59" y="391.0" width="4.2" height="3.7" fill="#26a69a"/>
<rect x="1219.24" y="368.3" width="1" height="26.4" fill="#26a69a" fill-opacity="0.75"/>
<rect x="1217.64" y="380.1" width="4.2" height="14.6" fill="#26a69a"/>
<rect x="1224.30" y="361.1" width="1" height="19.8" fill="#26a69a" fill-opacity="0.75"/>
<rect x="1222.70" y="376.7" width="4.2" height="4.2" fill="#26a69a"/>
<rect x="1229.36" y="363.3" width="1" height="13.4" fill="#26a69a" fill-opacity="0.75"/>
<rect x="1227.76" y="368.2" width="4.2" height="8.5" fill="#26a69a"/>
<rect x="1234.41" y="365.3" width="1" height="27.7" fill="#ef5350" fill-opacity="0.75"/>
<rect x="1232.82" y="369.0" width="4.2" height="22.3" fill="#ef5350"/>
<rect x="1239.47" y="381.3" width="1" height="30.7" fill="#26a69a" fill-opacity="0.75"/>
<rect x="1237.87" y="385.0" width="4.2" height="6.8" fill="#26a69a"/>
<rect x="1244.53" y="382.1" width="1" height="36.6" fill="#ef5350" fill-opacity="0.75"/>
<rect x="1242.93" y="386.0" width="4.2" height="31.0" fill="#ef5350"/>
</g>
<g stroke="#f88500" stroke-width="1.95" stroke-linecap="butt"><line x1="646.8" y1="89.3" x2="1351.3" y2="418.9"/><line x1="646.8" y1="93.5" x2="1351.3" y2="423.2"/></g>
<text x="685.5" y="104.7" font-size="13.8" font-weight="bold" fill="#ffffff">November 2023 highs</text>
<path d="M8.8,633.4 L10.9,637.0 L15.7,639.1 L21.0,649.6 L26.2,639.7 L31.1,627.1 L36.1,629.9 L41.2,643.3 L45.8,630.7 L51.4,638.7 L56.3,638.3 L61.5,635.5 L66.1,629.2 L71.8,636.2 L81.9,618.1 L87.1,627.1 L91.3,635.5 L96.6,643.9 L101.2,662.2 L106.7,662.4 L117.2,645.0 L121.8,646.7 L127.0,650.2 L132.3,656.1 L137.5,669.8 L142.1,634.1 L147.0,648.1 L152.2,649.2 L157.9,642.2 L162.7,652.3 L167.3,652.3 L172.6,637.0 L177.8,608.7 L182.7,614.5 L187.5,624.6 L192.7,617.3 L198.0,607.6 L202.6,588.7 L207.9,599.2 L213.1,609.3 L218.3,607.8 L222.5,625.7 L228.4,630.9 L233.5,628.2 L238.3,630.3 L243.1,623.6 L248.4,641.8 L253.4,609.3 L258.7,617.7 L263.5,603.0 L268.7,595.0 L274.0,588.7 L279.2,570.0 L283.9,573.2 L289.1,571.1 L294.2,588.3 L298.4,614.5 L303.6,616.0 L308.9,611.0 L313.7,611.4 L318.8,616.0 L323.6,593.5 L328.8,595.2 L334.1,590.4 L338.9,579.9 L344.2,596.3 L349.8,603.0 L354.7,587.2 L359.3,573.2 L364.5,592.5 L369.4,606.1 L375.0,613.5 L379.2,625.7 L384.9,633.0 L390.4,626.1 L395.0,625.7 L399.6,635.1 L405.1,622.9 L410.1,601.9 L414.9,600.9 L419.8,598.8 L425.4,590.0 L430.7,600.9 L435.3,613.5 L440.1,612.4 L445.4,619.4 L450.6,626.1 L455.9,600.5 L460.5,600.5 L465.9,595.0 L471.0,590.4 L476.2,580.9 L481.1,593.5 L485.9,603.6 L491.1,585.1 L495.8,575.7 L501.0,584.5 L506.3,573.6 L511.1,563.1 L516.1,550.1 L520.9,567.3 L526.6,561.0 L531.9,583.5 L536.7,583.0 L541.5,577.8 L546.6,577.4 L551.8,579.9 L556.6,585.8 L561.9,588.7 L567.1,589.8 L572.4,601.9 L577.2,604.5 L582.1,608.9 L587.3,592.1 L592.2,587.2 L597.2,596.3 L602.0,572.5 L607.3,577.8 L612.5,558.5 L617.4,559.5 L622.6,559.3 L627.9,561.6 L632.9,553.6 L637.7,570.9 L643.0,565.2 L647.8,559.3 L652.9,579.9 L657.7,586.6 L662.9,582.4 L668.2,607.2 L673.4,600.9 L678.3,588.3 L683.3,576.7 L688.1,571.5 L693.4,564.6 L698.0,585.1 L703.5,595.6 L708.5,574.6 L713.3,571.1 L718.6,562.7 L723.8,571.9 L728.6,603.4 L733.7,595.2 L738.9,605.5 L743.8,617.3 L749.0,621.9 L754.3,630.3 L759.5,638.7 L764.8,645.6 L769.6,667.4 L774.2,654.4 L779.5,657.6 L784.7,656.9 L789.5,655.5 L794.6,651.3 L799.4,652.3 L804.6,634.5 L809.9,617.1 L814.7,619.8 L819.8,630.7 L825.0,599.4 L830.3,607.6 L835.1,588.3 L840.3,577.8 L845.6,582.6 L850.8,580.3 L855.7,579.3 L860.7,578.4 L865.5,572.5 L871.0,589.3 L875.2,581.4 L880.5,590.4 L885.3,619.8 L890.4,616.0 L895.6,631.3 L900.9,637.2 L905.7,629.2 L910.5,620.2 L915.8,627.1 L921.0,633.4 L926.1,620.8 L930.9,618.1 L936.1,632.0 L941.4,645.0 L946.2,629.2 L951.3,635.5 L956.1,639.7 L961.3,642.2 L966.6,650.2 L971.4,641.8 L976.7,651.7 L981.7,638.7 L986.9,645.0 L991.8,640.4 L997.0,629.2 L1001.8,608.2 L1006.9,625.7 L1012.1,629.9 L1017.0,624.0 L1022.2,622.3 L1027.5,628.2 L1032.1,643.3 L1037.3,617.7 L1042.2,608.2 L1047.4,604.0 L1052.7,601.3 L1057.9,598.8 L1062.7,596.7 L1067.4,611.4 L1072.6,618.3 L1077.4,603.4 L1082.7,605.7 L1087.9,598.8 L1092.5,598.2 L1097.8,594.6 L1102.6,601.9 L1107.7,611.4 L1112.9,599.4 L1118.2,610.3 L1123.4,641.8 L1128.2,619.4 L1133.2,607.2 L1138.4,596.3 L1143.3,612.0 L1148.3,600.9 L1153.6,606.1 L1158.4,606.8 L1163.6,606.1 L1168.5,576.1 L1173.5,580.3 L1178.8,583.5 L1184.0,579.9 L1188.8,595.0 L1194.1,607.8 L1199.3,605.5 L1204.2,598.8 L1209.2,593.1 L1214.0,592.5 L1219.3,585.1 L1224.5,582.0 L1229.4,576.3 L1234.6,597.1 L1239.6,592.1 L1245.1,618.1" fill="none" stroke="#7e57c2" stroke-width="1.0" stroke-linejoin="round"/>
<path d="M8.8,600.9 C9.5,601.3 11.5,602.7 12.8,603.6 C14.2,604.5 15.5,605.4 16.8,606.3 C18.2,607.2 19.5,608.1 20.8,609.0 C22.2,609.9 23.5,610.8 24.8,611.6 C26.2,612.5 27.5,613.3 28.8,614.1 C30.2,614.9 31.5,615.7 32.8,616.5 C34.2,617.4 35.5,618.3 36.8,619.2 C38.2,620.2 39.5,621.2 40.8,622.2 C42.2,623.2 43.5,624.2 44.8,625.1 C46.2,626.0 47.5,626.9 48.8,627.6 C50.2,628.3 51.5,628.8 52.8,629.3 C54.2,629.8 55.5,630.1 56.8,630.5 C58.2,630.9 59.5,631.2 60.8,631.7 C62.2,632.1 63.5,632.6 64.8,633.1 C66.2,633.6 67.5,634.2 68.8,634.6 C70.2,634.9 71.5,635.3 72.8,635.4 C74.2,635.5 75.5,635.4 76.8,635.2 C78.2,635.1 79.5,634.8 80.8,634.6 C82.2,634.4 83.5,634.1 84.8,633.8 C86.2,633.6 87.5,633.3 88.8,633.1 C90.2,632.9 91.5,632.7 92.8,632.7 C94.2,632.8 95.5,632.9 96.8,633.2 C98.2,633.5 99.5,634.1 100.8,634.6 C102.2,635.1 103.5,635.7 104.8,636.2 C106.2,636.6 107.5,637.1 108.8,637.4 C110.2,637.8 111.5,638.0 112.8,638.3 C114.2,638.6 115.5,638.8 116.8,639.0 C118.2,639.3 119.5,639.5 120.8,639.7 C122.2,640.0 123.5,640.2 124.8,640.5 C126.2,640.8 127.5,641.1 128.8,641.5 C130.2,642.0 131.5,642.5 132.8,643.0 C134.2,643.5 135.5,644.1 136.8,644.5 C138.2,644.9 139.5,645.2 140.8,645.6 C142.2,645.9 143.5,646.2 144.8,646.6 C146.2,647.0 147.5,647.4 148.8,647.9 C150.2,648.3 151.5,648.7 152.8,649.1 C154.2,649.5 155.5,649.8 156.8,650.1 C158.2,650.3 159.5,650.6 160.8,650.7 C162.2,650.9 163.5,651.0 164.8,650.9 C166.2,650.9 167.5,650.8 168.8,650.4 C170.2,650.1 171.5,649.6 172.8,649.0 C174.2,648.5 175.5,647.6 176.8,646.9 C178.2,646.2 179.5,645.4 180.8,644.7 C182.2,644.0 183.5,643.4 184.8,642.8 C186.2,642.2 187.5,641.7 188.8,641.2 C190.2,640.6 191.5,640.1 192.8,639.3 C194.2,638.6 195.5,637.8 196.8,636.8 C198.2,635.9 199.5,634.7 200.8,633.5 C202.2,632.3 203.5,631.0 204.8,629.9 C206.2,628.7 207.5,627.7 208.8,626.8 C210.2,625.9 211.5,625.3 212.8,624.6 C214.2,623.9 215.5,623.3 216.8,622.8 C218.2,622.2 219.5,621.6 220.8,621.1 C222.2,620.7 223.5,620.4 224.8,620.1 C226.2,619.7 227.5,619.5 228.8,619.1 C230.2,618.8 231.5,618.5 232.8,618.1 C234.2,617.8 235.5,617.4 236.8,617.1 C238.2,616.9 239.5,616.6 240.8,616.5 C242.2,616.5 243.5,616.6 244.8,616.8 C246.2,616.9 247.5,617.3 248.8,617.5 C250.2,617.6 251.5,617.6 252.8,617.6 C254.2,617.5 255.5,617.3 256.8,617.2 C258.2,617.0 259.5,616.8 260.8,616.6 C262.2,616.4 263.5,616.2 264.8,616.0 C266.2,615.8 267.5,615.7 268.8,615.5 C270.2,615.3 271.5,615.2 272.8,615.0 C274.2,614.7 275.5,614.4 276.8,614.0 C278.2,613.5 279.5,612.9 280.8,612.3 C282.2,611.7 283.5,610.9 284.8,610.1 C286.2,609.4 287.5,608.6 288.8,607.9 C290.2,607.2 291.5,606.5 292.8,605.9 C294.2,605.3 295.5,604.8 296.8,604.3 C298.2,603.9 299.5,603.6 300.8,603.3 C302.2,603.0 303.5,602.8 304.8,602.6 C306.2,602.3 307.5,602.1 308.8,601.8 C310.2,601.5 311.5,601.2 312.8,600.9 C314.2,600.5 315.5,600.1 316.8,599.6 C318.2,599.2 319.5,598.7 320.8,598.3 C322.2,597.8 323.5,597.4 324.8,597.0 C326.2,596.7 327.5,596.4 328.8,596.1 C330.2,595.8 331.5,595.6 332.8,595.3 C334.2,595.1 335.5,594.9 336.8,594.8 C338.2,594.7 339.5,594.6 340.8,594.7 C342.2,594.8 343.5,595.1 344.8,595.4 C346.2,595.7 347.5,596.2 348.8,596.5 C350.2,596.8 351.5,597.2 352.8,597.4 C354.2,597.6 355.5,597.8 356.8,597.9 C358.2,598.1 359.5,598.2 360.8,598.2 C362.2,598.3 363.5,598.2 364.8,598.2 C366.2,598.2 367.5,598.2 368.8,598.1 C370.2,598.1 371.5,598.1 372.8,598.1 C374.2,598.2 375.5,598.3 376.8,598.5 C378.2,598.7 379.5,599.0 380.8,599.4 C382.2,599.7 383.5,600.0 384.8,600.4 C386.2,600.7 387.5,601.0 388.8,601.5 C390.2,601.9 391.5,602.4 392.8,602.9 C394.2,603.5 395.5,604.1 396.8,604.8 C398.2,605.4 399.5,606.1 400.8,606.7 C402.2,607.3 403.5,608.0 404.8,608.5 C406.2,608.9 407.5,609.4 408.8,609.6 C410.2,609.9 411.5,610.1 412.8,610.2 C414.2,610.3 415.5,610.3 416.8,610.3 C418.2,610.4 419.5,610.3 420.8,610.4 C422.2,610.5 423.5,610.6 424.8,610.9 C426.2,611.1 427.5,611.5 428.8,611.8 C430.2,612.2 431.5,612.6 432.8,613.0 C434.2,613.3 435.5,613.6 436.8,613.9 C438.2,614.1 439.5,614.3 440.8,614.4 C442.2,614.6 443.5,614.7 444.8,614.7 C446.2,614.7 447.5,614.7 448.8,614.5 C450.2,614.3 451.5,614.1 452.8,613.7 C454.2,613.4 455.5,612.9 456.8,612.4 C458.2,611.9 459.5,611.3 460.8,610.7 C462.2,610.0 463.5,609.4 464.8,608.7 C466.2,608.0 467.5,607.3 468.8,606.6 C470.2,605.9 471.5,605.2 472.8,604.6 C474.2,604.0 475.5,603.5 476.8,603.1 C478.2,602.7 479.5,602.5 480.8,602.3 C482.2,602.1 483.5,602.1 484.8,601.9 C486.2,601.7 487.5,601.6 488.8,601.4 C490.2,601.2 491.5,601.0 492.8,600.7 C494.2,600.5 495.5,600.3 496.8,599.9 C498.2,599.6 499.5,599.3 500.8,598.7 C502.2,598.2 503.5,597.5 504.8,596.7 C506.2,595.9 507.5,595.1 508.8,594.1 C510.2,593.2 511.5,592.1 512.8,591.0 C514.2,589.9 515.5,588.7 516.8,587.6 C518.2,586.4 519.5,585.2 520.8,584.3 C522.2,583.3 523.5,582.5 524.8,581.8 C526.2,581.1 527.5,580.5 528.8,580.0 C530.2,579.6 531.5,579.2 532.8,578.9 C534.2,578.6 535.5,578.3 536.8,578.1 C538.2,577.9 539.5,577.7 540.8,577.6 C542.2,577.4 543.5,577.3 544.8,577.1 C546.2,576.9 547.5,576.6 548.8,576.3 C550.2,576.1 551.5,575.7 552.8,575.4 C554.2,575.1 555.5,574.8 556.8,574.7 C558.2,574.6 559.5,574.7 560.8,574.8 C562.2,574.9 563.5,575.2 564.8,575.5 C566.2,575.8 567.5,576.1 568.8,576.5 C570.2,576.9 571.5,577.4 572.8,577.9 C574.2,578.5 575.5,579.2 576.8,579.9 C578.2,580.5 579.5,581.3 580.8,582.0 C582.2,582.7 583.5,583.5 584.8,584.1 C586.2,584.7 587.5,585.3 588.8,585.9 C590.2,586.4 591.5,586.9 592.8,587.4 C594.2,587.8 595.5,588.3 596.8,588.5 C598.2,588.8 599.5,588.8 600.8,588.8 C602.2,588.8 603.5,588.6 604.8,588.4 C606.2,588.3 607.5,588.0 608.8,587.7 C610.2,587.5 611.5,587.1 612.8,586.8 C614.2,586.4 615.5,586.0 616.8,585.6 C618.2,585.2 619.5,584.8 620.8,584.4 C622.2,583.9 623.5,583.5 624.8,583.0 C626.2,582.5 627.5,582.1 628.8,581.6 C630.2,581.1 631.5,580.6 632.8,580.1 C634.2,579.5 635.5,579.0 636.8,578.4 C638.2,577.8 639.5,577.2 640.8,576.6 C642.2,575.9 643.5,575.2 644.8,574.6 C646.2,574.0 647.5,573.3 648.8,572.8 C650.2,572.3 651.5,571.8 652.8,571.5 C654.2,571.2 655.5,571.0 656.8,570.9 C658.2,570.8 659.5,570.7 660.8,570.8 C662.2,570.8 663.5,570.9 664.8,571.1 C666.2,571.2 667.5,571.5 668.8,571.8 C670.2,572.1 671.5,572.5 672.8,572.9 C674.2,573.2 675.5,573.5 676.8,573.9 C678.2,574.2 679.5,574.4 680.8,574.7 C682.2,575.0 683.5,575.2 684.8,575.4 C686.2,575.7 687.5,575.9 688.8,576.1 C690.2,576.3 691.5,576.6 692.8,576.9 C694.2,577.2 695.5,577.6 696.8,578.0 C698.2,578.5 699.5,579.0 700.8,579.5 C702.2,579.9 703.5,580.4 704.8,580.7 C706.2,581.0 707.5,581.2 708.8,581.3 C710.2,581.5 711.5,581.6 712.8,581.7 C714.2,581.7 715.5,581.8 716.8,581.8 C718.2,581.8 719.5,581.8 720.8,581.8 C722.2,581.9 723.5,581.9 724.8,582.0 C726.2,582.1 727.5,582.4 728.8,582.5 C730.2,582.7 731.5,582.9 732.8,583.1 C734.2,583.3 735.5,583.4 736.8,583.6 C738.2,583.7 739.5,583.9 740.8,584.2 C742.2,584.5 743.5,584.8 744.8,585.3 C746.2,585.8 747.5,586.4 748.8,587.2 C750.2,588.0 751.5,589.0 752.8,590.0 C754.2,591.1 755.5,592.3 756.8,593.5 C758.2,594.7 759.5,596.0 760.8,597.4 C762.2,598.8 763.5,600.3 764.8,601.8 C766.2,603.2 767.5,604.8 768.8,606.3 C770.2,607.9 771.5,609.4 772.8,611.0 C774.2,612.5 775.5,614.1 776.8,615.7 C778.2,617.3 779.5,618.9 780.8,620.5 C782.2,622.1 783.5,623.8 784.8,625.4 C786.2,627.0 787.5,628.6 788.8,630.1 C790.2,631.5 791.5,632.9 792.8,634.1 C794.2,635.2 795.5,636.2 796.8,637.1 C798.2,638.1 799.5,638.9 800.8,639.5 C802.2,640.2 803.5,640.9 804.8,641.3 C806.2,641.7 807.5,642.0 808.8,642.2 C810.2,642.4 811.5,642.6 812.8,642.7 C814.2,642.8 815.5,642.9 816.8,642.8 C818.2,642.8 819.5,642.7 820.8,642.4 C822.2,642.1 823.5,641.7 824.8,641.2 C826.2,640.6 827.5,640.0 828.8,639.2 C830.2,638.4 831.5,637.4 832.8,636.3 C834.2,635.2 835.5,633.9 836.8,632.7 C838.2,631.4 839.5,630.1 840.8,628.7 C842.2,627.4 843.5,626.0 844.8,624.6 C846.2,623.2 847.5,621.7 848.8,620.2 C850.2,618.7 851.5,617.2 852.8,615.7 C854.2,614.2 855.5,612.7 856.8,611.2 C858.2,609.6 859.5,608.1 860.8,606.7 C862.2,605.2 863.5,603.7 864.8,602.3 C866.2,600.9 867.5,599.6 868.8,598.4 C870.2,597.2 871.5,596.0 872.8,595.0 C874.2,594.1 875.5,593.2 876.8,592.6 C878.2,592.0 879.5,591.6 880.8,591.3 C882.2,591.0 883.5,590.9 884.8,590.8 C886.2,590.8 887.5,590.8 888.8,590.9 C890.2,591.1 891.5,591.4 892.8,591.8 C894.2,592.2 895.5,592.7 896.8,593.3 C898.2,593.9 899.5,594.5 900.8,595.2 C902.2,595.9 903.5,596.7 904.8,597.5 C906.2,598.2 907.5,599.1 908.8,599.9 C910.2,600.8 911.5,601.7 912.8,602.6 C914.2,603.4 915.5,604.4 916.8,605.3 C918.2,606.2 919.5,607.1 920.8,607.9 C922.2,608.7 923.5,609.5 924.8,610.2 C926.2,611.0 927.5,611.7 928.8,612.6 C930.2,613.4 931.5,614.3 932.8,615.2 C934.2,616.2 935.5,617.2 936.8,618.2 C938.2,619.2 939.5,620.3 940.8,621.2 C942.2,622.2 943.5,623.1 944.8,624.0 C946.2,624.9 947.5,625.7 948.8,626.5 C950.2,627.2 951.5,627.9 952.8,628.5 C954.2,629.1 955.5,629.6 956.8,630.1 C958.2,630.6 959.5,631.0 960.8,631.4 C962.2,631.7 963.5,632.0 964.8,632.3 C966.2,632.6 967.5,632.8 968.8,633.1 C970.2,633.4 971.5,633.6 972.8,634.0 C974.2,634.3 975.5,634.7 976.8,635.1 C978.2,635.4 979.5,635.8 980.8,636.2 C982.2,636.5 983.5,636.8 984.8,637.0 C986.2,637.3 987.5,637.5 988.8,637.7 C990.2,637.8 991.5,638.0 992.8,638.0 C994.2,638.1 995.5,638.1 996.8,638.1 C998.2,638.1 999.5,638.0 1000.8,637.9 C1002.2,637.9 1003.5,637.7 1004.8,637.6 C1006.2,637.4 1007.5,637.2 1008.8,637.0 C1010.2,636.8 1011.5,636.6 1012.8,636.4 C1014.2,636.2 1015.5,636.0 1016.8,635.8 C1018.2,635.6 1019.5,635.4 1020.8,635.2 C1022.2,635.0 1023.5,634.9 1024.8,634.7 C1026.2,634.5 1027.5,634.4 1028.8,634.2 C1030.2,634.0 1031.5,633.8 1032.8,633.4 C1034.2,633.0 1035.5,632.5 1036.8,632.0 C1038.2,631.5 1039.5,630.9 1040.8,630.2 C1042.2,629.5 1043.5,628.8 1044.8,628.0 C1046.2,627.2 1047.5,626.3 1048.8,625.5 C1050.2,624.6 1051.5,623.8 1052.8,622.9 C1054.2,622.1 1055.5,621.3 1056.8,620.6 C1058.2,619.8 1059.5,619.1 1060.8,618.5 C1062.2,617.9 1063.5,617.4 1064.8,616.9 C1066.2,616.5 1067.5,616.2 1068.8,615.9 C1070.2,615.6 1071.5,615.3 1072.8,615.0 C1074.2,614.7 1075.5,614.4 1076.8,614.0 C1078.2,613.6 1079.5,613.3 1080.8,612.9 C1082.2,612.5 1083.5,612.0 1084.8,611.6 C1086.2,611.2 1087.5,610.7 1088.8,610.2 C1090.2,609.7 1091.5,609.2 1092.8,608.7 C1094.2,608.1 1095.5,607.5 1096.8,607.0 C1098.2,606.5 1099.5,605.9 1100.8,605.5 C1102.2,605.0 1103.5,604.6 1104.8,604.3 C1106.2,604.0 1107.5,603.8 1108.8,603.6 C1110.2,603.5 1111.5,603.3 1112.8,603.4 C1114.2,603.4 1115.5,603.5 1116.8,603.8 C1118.2,604.0 1119.5,604.4 1120.8,604.9 C1122.2,605.3 1123.5,605.9 1124.8,606.3 C1126.2,606.7 1127.5,607.1 1128.8,607.3 C1130.2,607.5 1131.5,607.5 1132.8,607.5 C1134.2,607.5 1135.5,607.4 1136.8,607.4 C1138.2,607.3 1139.5,607.3 1140.8,607.2 C1142.2,607.2 1143.5,607.2 1144.8,607.2 C1146.2,607.2 1147.5,607.2 1148.8,607.2 C1150.2,607.2 1151.5,607.2 1152.8,607.2 C1154.2,607.2 1155.5,607.3 1156.8,607.3 C1158.2,607.4 1159.5,607.5 1160.8,607.5 C1162.2,607.5 1163.5,607.5 1164.8,607.3 C1166.2,607.1 1167.5,606.7 1168.8,606.3 C1170.2,605.9 1171.5,605.4 1172.8,605.0 C1174.2,604.5 1175.5,604.1 1176.8,603.6 C1178.2,603.2 1179.5,602.8 1180.8,602.3 C1182.2,601.9 1183.5,601.4 1184.8,601.0 C1186.2,600.5 1187.5,600.1 1188.8,599.6 C1190.2,599.2 1191.5,598.7 1192.8,598.4 C1194.2,598.0 1195.5,597.7 1196.8,597.4 C1198.2,597.1 1199.5,596.9 1200.8,596.6 C1202.2,596.4 1203.5,596.2 1204.8,596.0 C1206.2,595.8 1207.5,595.6 1208.8,595.3 C1210.2,595.1 1211.5,594.9 1212.8,594.6 C1214.2,594.3 1215.5,594.0 1216.8,593.7 C1218.2,593.3 1219.5,592.9 1220.8,592.5 C1222.2,592.1 1223.5,591.7 1224.8,591.3 C1226.2,590.9 1227.5,590.5 1228.8,590.3 C1230.2,590.0 1231.5,589.8 1232.8,589.8 C1234.2,589.8 1235.5,589.9 1236.8,590.2 C1238.2,590.4 1239.5,590.9 1240.8,591.4 C1242.2,592.0 1244.2,593.1 1244.8,593.4" fill="none" stroke="#e8d23a" stroke-width="1.05" stroke-linejoin="round"/>
<text class="ax" x="1374.5" y="84.0">0.88000</text>
<text class="ax" x="1374.5" y="149.8">0.87500</text>
<text class="ax" x="1374.5" y="215.5">0.87000</text>
<text class="ax" x="1374.5" y="281.2">0.86500</text>
<text class="ax" x="1374.5" y="347.0">0.86000</text>
<text class="ax" x="1374.5" y="412.8">0.85500</text>
<text class="ax" x="1374.5" y="478.5">0.85000</text>
<text class="ax" x="1374.5" y="550.0">70.00</text>
<text class="ax" x="1374.5" y="578.2">60.00</text>
<text class="ax" x="1374.5" y="606.5">50.00</text>
<text class="ax" x="1374.5" y="634.8">40.00</text>
<text class="ax" x="1374.5" y="663.0">30.00</text>
<path d="M1367,409.1 H1415.5 Q1417,409.1 1417,410.6 V423.4 Q1417,424.9 1415.5,424.9 H1367 Z" fill="#ef5350"/>
<text x="1374.3" y="420.8" font-size="10.6" fill="#ffffff" stroke="#ffffff" stroke-width="0.2" textLength="37" lengthAdjust="spacingAndGlyphs">0.85437</text>
<text class="tm" x="107.1" y="699.8">Jun</text>
<text class="tm" x="218.4" y="699.8">Jul</text>
<text class="tm" x="324.6" y="699.8">Aug</text>
<text class="tm" x="440.9" y="699.8">Sep</text>
<text class="tm" x="547.1" y="699.8">Oct</text>
<text class="tm" x="658.4" y="699.8">Nov</text>
<text class="tm" x="769.6" y="699.8">Dec</text>
<text class="tm" x="875.8" y="699.8">2024</text>
<text class="tm" x="992.2" y="699.8">Feb</text>
<text class="tm" x="1098.4" y="699.8">Mar</text>
<text class="tm" x="1204.6" y="699.8">Apr</text>
<text class="tm" x="1315.8" y="699.8">May</text>
<text x="9.2" y="17.1" font-size="10.55" fill="#d5d8df" stroke="#d5d8df" stroke-width="0.35">dacolmanfx published on TradingView.com, Apr 11, 2024 17:57 UTC-4</text>
<text class="lg" y="40.8"><tspan x="16">Euro / British Pound, 1D, ICE</tspan><tspan x="158">O</tspan><tspan class="rd v" x="165">0.85669</tspan><tspan x="209">H</tspan><tspan class="rd v" x="216">0.85700</tspan><tspan x="259">L</tspan><tspan class="rd v" x="264">0.85420</tspan><tspan x="308">C</tspan><tspan class="rd v" x="314.5">0.85437</tspan><tspan class="rd" x="358" font-size="10">−0.00244 (−0.28%)</tspan></text>
<g fill="#d5d8df"><path d="M9.1,718.4 h6.7 v8.6 h-4 v-5.2 h-2.7z"/><circle cx="18.6" cy="720.1" r="1.05"/><path d="M20.9,718.4 h5.1 l-3,8.6 h-4.6z"/></g>
<text x="29.2" y="727.9" font-size="11.25" fill="#d5d8df" stroke="#d5d8df" stroke-width="0.25">TradingView</text>
<g transform="translate(1178.5,694.6) skewX(-16)" opacity="0.58"><text x="0" y="0" font-size="55" font-weight="900" fill="#f3f5ff" stroke="#f3f5ff" stroke-width="0.6" stroke-linejoin="miter" textLength="240" lengthAdjust="spacingAndGlyphs" style="font-family:'Noto Sans CJK SC','Liberation Sans',sans-serif">海马财经</text></g>
<g transform="translate(1193.5,733.2) skewX(-14) scale(1.1,1)"><text x="0" y="0" font-size="31" font-weight="bold" fill="#1b3fa6" stroke="#1b3fa6" stroke-width="0.8" letter-spacing="8.6">zzrt01.cn</text></g>
</svg></body></html>
